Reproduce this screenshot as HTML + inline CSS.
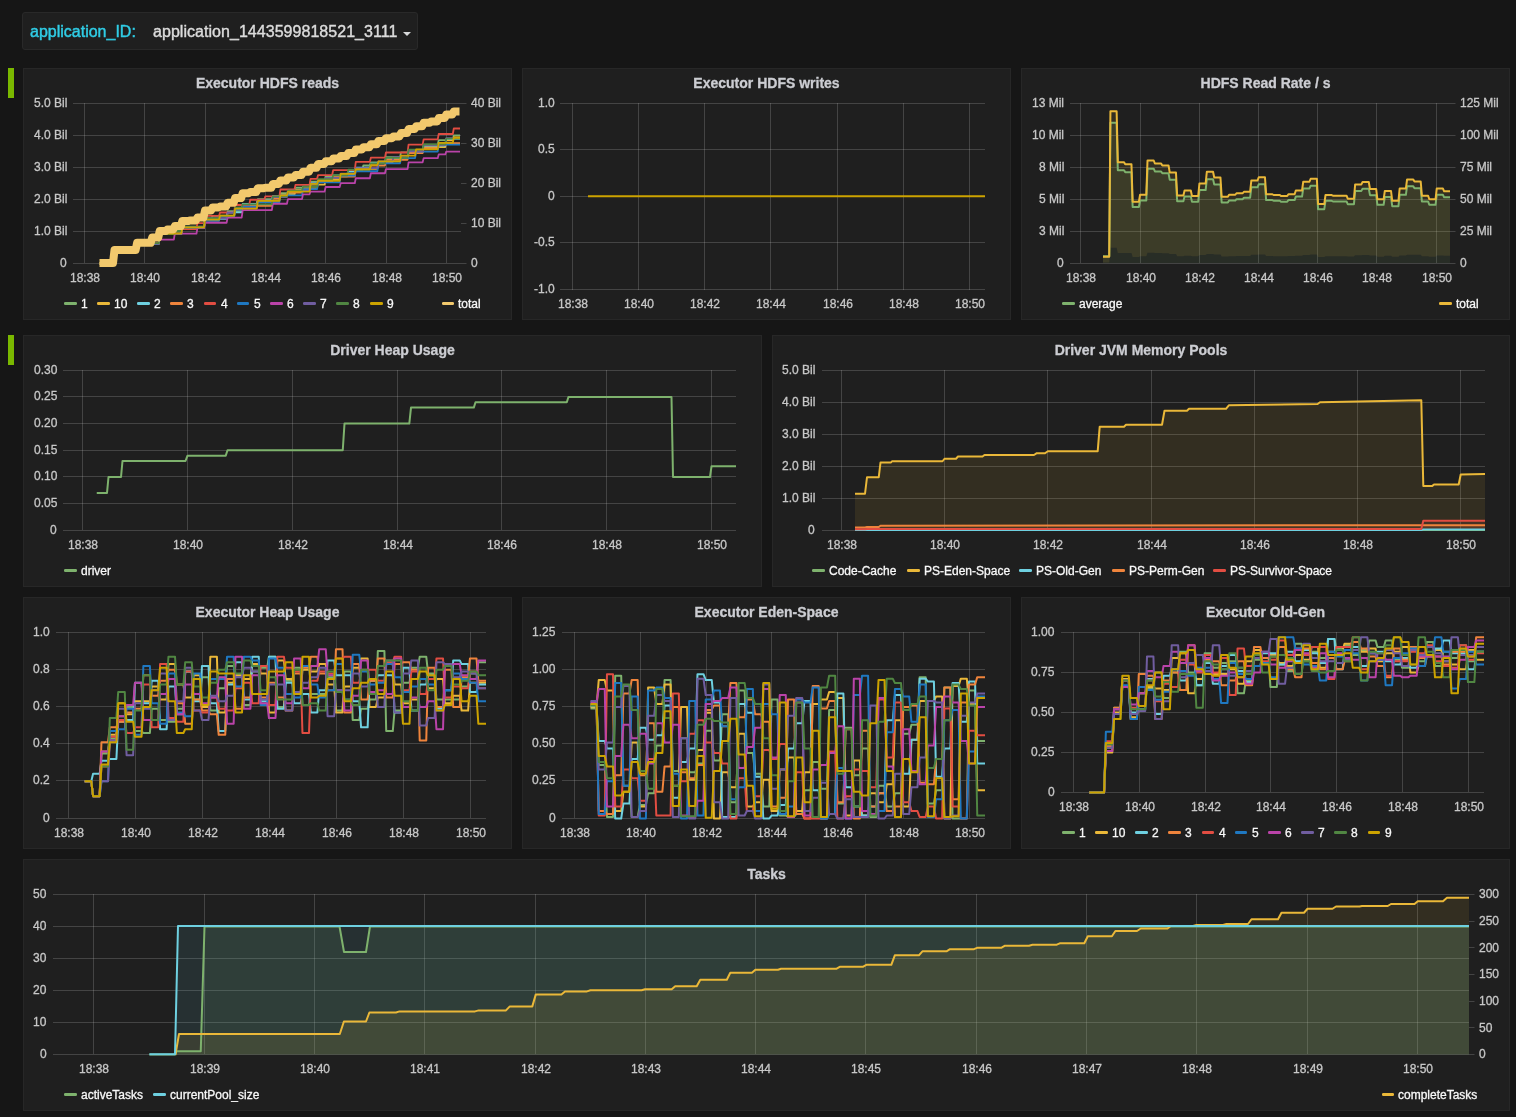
<!DOCTYPE html><html><head><meta charset="utf-8"><title>Spark dashboard</title><style>
html,body{margin:0;padding:0;background:#161616;}
body{width:1516px;height:1117px;position:relative;overflow:hidden;font-family:"Liberation Sans",sans-serif;color:#c8c8c8;}
.panel{position:absolute;box-sizing:border-box;background:#1f1f1f;border:1px solid #272727;}
.panel>*{position:absolute;}
.tk,.lg,.title,.submenu span{-webkit-text-stroke:0.3px currentColor;will-change:transform;}
.chart{left:-1px;top:-1px;}
.title{left:0px;top:5px;width:100%;text-align:center;font-size:14px;font-weight:bold;line-height:18px;color:#cccdd2;}
.tk{font-size:12px;line-height:16px;white-space:nowrap;color:#c8c8c8;margin-left:-1px;margin-top:-1.35px;}
.tk.c{width:60px;text-align:center;}
.lg{font-size:12px;line-height:16px;white-space:nowrap;color:#f8f8f8;margin-left:-1px;margin-top:-1px;}
.sw{width:12.6px;height:3.7px;border-radius:1.2px;margin-left:-1px;margin-top:-1px;}
.rowbar{position:absolute;left:8px;width:6px;height:30px;background:#7ab800;}
.submenu{position:absolute;left:22px;top:12px;width:396px;height:38px;box-sizing:border-box;background:#1f1f1f;border:1px solid #292929;border-radius:3px;font-size:16px;line-height:20px;}
.submenu span{position:absolute;top:9px;white-space:nowrap;}
.caret{position:absolute;left:380px;top:19px;width:0;height:0;border-left:4px solid transparent;border-right:4px solid transparent;border-top:4px solid #d8d9da;}

</style></head><body>
<div class="submenu"><span style="left:7px;color:#30cde6;-webkit-text-stroke-width:0.45px">application_ID:</span><span style="left:129.5px;color:#dcdcdc;-webkit-text-stroke-width:0.4px;letter-spacing:0.04px">application_1443599818521_3111</span><div class="caret"></div></div>
<div class="rowbar" style="top:68px"></div><div class="rowbar" style="top:335px"></div>
<div class="panel" style="left:23px;top:68px;width:489px;height:252px">
<div class="title">Executor HDFS reads</div>
<svg class="chart" width="489" height="252" viewBox="0 0 489 252">
<rect x="50" y="35" width="388" height="1" fill="#c8c8c8" fill-opacity="0.22"/>
<rect x="50" y="67" width="388" height="1" fill="#c8c8c8" fill-opacity="0.22"/>
<rect x="50" y="99" width="388" height="1" fill="#c8c8c8" fill-opacity="0.22"/>
<rect x="50" y="131" width="388" height="1" fill="#c8c8c8" fill-opacity="0.22"/>
<rect x="50" y="163" width="388" height="1" fill="#c8c8c8" fill-opacity="0.22"/>
<rect x="50" y="195" width="388" height="1" fill="#c8c8c8" fill-opacity="0.22"/>
<rect x="61" y="35" width="1" height="160" fill="#c8c8c8" fill-opacity="0.22"/>
<rect x="121" y="35" width="1" height="160" fill="#c8c8c8" fill-opacity="0.22"/>
<rect x="182" y="35" width="1" height="160" fill="#c8c8c8" fill-opacity="0.22"/>
<rect x="242" y="35" width="1" height="160" fill="#c8c8c8" fill-opacity="0.22"/>
<rect x="302" y="35" width="1" height="160" fill="#c8c8c8" fill-opacity="0.22"/>
<rect x="363" y="35" width="1" height="160" fill="#c8c8c8" fill-opacity="0.22"/>
<rect x="423" y="35" width="1" height="160" fill="#c8c8c8" fill-opacity="0.22"/>
<rect x="438" y="35" width="5.5" height="1" fill="#c8c8c8" fill-opacity="0.22"/>
<rect x="438" y="75" width="5.5" height="1" fill="#c8c8c8" fill-opacity="0.22"/>
<rect x="438" y="115" width="5.5" height="1" fill="#c8c8c8" fill-opacity="0.22"/>
<rect x="438" y="155" width="5.5" height="1" fill="#c8c8c8" fill-opacity="0.22"/>
<rect x="438" y="195" width="5.5" height="1" fill="#c8c8c8" fill-opacity="0.22"/>
<path d="M76.5 195.5 L82.96 195.5 L83.96 195.5 L90.5 195.5 L91.5 183.02 L98.04 183.02 L99.04 183.02 L105.58 183.02 L106.58 183.02 L113.12 183.02 L114.12 175.72 L120.66 175.72 L121.66 175.72 L128.2 175.72 L129.2 175.72 L135.74 175.72 L136.74 165.56 L143.28 165.56 L144.28 165.56 L150.82 165.56 L151.82 165.56 L158.36 165.56 L159.36 158.76 L165.9 158.76 L166.9 158.76 L173.44 158.76 L174.44 158.76 L180.98 158.76 L181.98 150.42 L188.52 150.42 L189.52 147.92 L196.06 147.92 L197.06 147.92 L203.6 147.92 L204.6 143.15 L211.14 143.15 L212.14 143.15 L218.68 143.15 L219.68 136.02 L226.22 136.02 L227.22 136.02 L233.76 136.02 L234.76 131.13 L241.3 131.13 L242.3 131.13 L248.84 131.13 L249.84 128.39 L256.38 128.39 L257.38 125.23 L263.92 125.23 L264.92 125.23 L271.46 125.23 L272.46 119.74 L279 119.74 L280 119.74 L286.54 119.74 L287.54 113.57 L294.08 113.57 L295.08 113.57 L301.62 113.57 L302.62 108.27 L309.16 108.27 L310.16 108.27 L316.7 108.27 L317.7 108.27 L324.24 108.27 L325.24 102.37 L331.78 102.37 L332.78 102.37 L339.32 102.37 L340.32 97.51 L346.86 97.51 L347.86 94.48 L354.4 94.48 L355.4 94.48 L361.94 94.48 L362.94 89.18 L369.48 89.18 L370.48 89.18 L377.02 89.18 L378.02 84.42 L384.56 84.42 L385.56 84.42 L392.1 84.42 L393.1 84.42 L399.64 84.42 L400.64 76.7 L407.18 76.7 L408.18 76.7 L414.72 76.7 L415.72 72.05 L422.26 72.05 L423.26 72.05 L429.8 72.05 L430.8 67.3 L437 67.3" fill="none" stroke="#7EB26D" stroke-width="1.8" stroke-linejoin="round" />
<path d="M76.5 195.5 L82.96 195.5 L83.96 195.5 L90.5 195.5 L91.5 183.02 L98.04 183.02 L99.04 183.02 L105.58 183.02 L106.58 183.02 L113.12 183.02 L114.12 176.16 L120.66 176.16 L121.66 176.16 L128.2 176.16 L129.2 176.16 L135.74 176.16 L136.74 165.55 L143.28 165.55 L144.28 165.55 L150.82 165.55 L151.82 165.55 L158.36 165.55 L159.36 159.15 L165.9 159.15 L166.9 159.15 L173.44 159.15 L174.44 159.15 L180.98 159.15 L181.98 151.94 L188.52 151.94 L189.52 151.94 L196.06 151.94 L197.06 147.85 L203.6 147.85 L204.6 147.85 L211.14 147.85 L212.14 140.42 L218.68 140.42 L219.68 137.63 L226.22 137.63 L227.22 137.63 L233.76 137.63 L234.76 132.62 L241.3 132.62 L242.3 132.62 L248.84 132.62 L249.84 132.62 L256.38 132.62 L257.38 126.69 L263.92 126.69 L264.92 126.69 L271.46 126.69 L272.46 121.99 L279 121.99 L280 121.99 L286.54 121.99 L287.54 116.59 L294.08 116.59 L295.08 116.59 L301.62 116.59 L302.62 111.2 L309.16 111.2 L310.16 111.2 L316.7 111.2 L317.7 105.99 L324.24 105.99 L325.24 105.99 L331.78 105.99 L332.78 100.92 L339.32 100.92 L340.32 100.92 L346.86 100.92 L347.86 100.92 L354.4 100.92 L355.4 94.32 L361.94 94.32 L362.94 94.32 L369.48 94.32 L370.48 90.44 L377.02 90.44 L378.02 90.44 L384.56 90.44 L385.56 84.02 L392.1 84.02 L393.1 84.02 L399.64 84.02 L400.64 79.16 L407.18 79.16 L408.18 79.16 L414.72 79.16 L415.72 79.16 L422.26 79.16 L423.26 72.47 L429.8 72.47 L430.8 69.46 L437 69.46" fill="none" stroke="#EAB839" stroke-width="1.8" stroke-linejoin="round" />
<path d="M76.5 195.5 L82.96 195.5 L83.96 195.5 L90.5 195.5 L91.5 183.02 L98.04 183.02 L99.04 183.02 L105.58 183.02 L106.58 183.02 L113.12 183.02 L114.12 175.5 L120.66 175.5 L121.66 175.5 L128.2 175.5 L129.2 171.15 L135.74 171.15 L136.74 166.2 L143.28 166.2 L144.28 166.2 L150.82 166.2 L151.82 166.2 L158.36 166.2 L159.36 158.92 L165.9 158.92 L166.9 158.92 L173.44 158.92 L174.44 158.92 L180.98 158.92 L181.98 150.95 L188.52 150.95 L189.52 150.95 L196.06 150.95 L197.06 150.95 L203.6 150.95 L204.6 144.37 L211.14 144.37 L212.14 144.37 L218.68 144.37 L219.68 136.11 L226.22 136.11 L227.22 136.11 L233.76 136.11 L234.76 132.69 L241.3 132.69 L242.3 132.69 L248.84 132.69 L249.84 128.24 L256.38 128.24 L257.38 128.24 L263.92 128.24 L264.92 123.11 L271.46 123.11 L272.46 123.11 L279 123.11 L280 118.53 L286.54 118.53 L287.54 115.16 L294.08 115.16 L295.08 111.91 L301.62 111.91 L302.62 111.91 L309.16 111.91 L310.16 107.31 L316.7 107.31 L317.7 107.31 L324.24 107.31 L325.24 103.58 L331.78 103.58 L332.78 99.75 L339.32 99.75 L340.32 99.75 L346.86 99.75 L347.86 95.14 L354.4 95.14 L355.4 95.14 L361.94 95.14 L362.94 90.68 L369.48 90.68 L370.48 90.68 L377.02 90.68 L378.02 90.68 L384.56 90.68 L385.56 83.43 L392.1 83.43 L393.1 83.43 L399.64 83.43 L400.64 77.57 L407.18 77.57 L408.18 77.57 L414.72 77.57 L415.72 77.57 L422.26 77.57 L423.26 70.85 L429.8 70.85 L430.8 70.85 L437 70.85" fill="none" stroke="#6ED0E0" stroke-width="1.8" stroke-linejoin="round" />
<path d="M76.5 195.5 L82.96 195.5 L83.96 195.5 L90.5 195.5 L91.5 183.02 L98.04 183.02 L99.04 183.02 L105.58 183.02 L106.58 183.02 L113.12 183.02 L114.12 175.78 L120.66 175.78 L121.66 175.78 L128.2 175.78 L129.2 175.78 L135.74 175.78 L136.74 165.92 L143.28 165.92 L144.28 165.92 L150.82 165.92 L151.82 165.92 L158.36 165.92 L159.36 160.21 L165.9 160.21 L166.9 160.21 L173.44 160.21 L174.44 160.21 L180.98 160.21 L181.98 152.35 L188.52 152.35 L189.52 152.35 L196.06 152.35 L197.06 147.84 L203.6 147.84 L204.6 147.84 L211.14 147.84 L212.14 142.02 L218.68 142.02 L219.68 137.93 L226.22 137.93 L227.22 137.93 L233.76 137.93 L234.76 137.93 L241.3 137.93 L242.3 137.93 L248.84 137.93 L249.84 130.6 L256.38 130.6 L257.38 127.65 L263.92 127.65 L264.92 124.53 L271.46 124.53 L272.46 124.53 L279 124.53 L280 120.03 L286.54 120.03 L287.54 120.03 L294.08 120.03 L295.08 113.24 L301.62 113.24 L302.62 113.24 L309.16 113.24 L310.16 108.7 L316.7 108.7 L317.7 108.7 L324.24 108.7 L325.24 108.7 L331.78 108.7 L332.78 101.24 L339.32 101.24 L340.32 101.24 L346.86 101.24 L347.86 97.49 L354.4 97.49 L355.4 97.49 L361.94 97.49 L362.94 91.73 L369.48 91.73 L370.48 91.73 L377.02 91.73 L378.02 91.73 L384.56 91.73 L385.56 84.98 L392.1 84.98 L393.1 84.98 L399.64 84.98 L400.64 80.13 L407.18 80.13 L408.18 80.13 L414.72 80.13 L415.72 75.15 L422.26 75.15 L423.26 75.15 L429.8 75.15 L430.8 75.15 L437 75.15" fill="none" stroke="#EF843C" stroke-width="1.8" stroke-linejoin="round" />
<path d="M76.5 195.5 L82.96 195.5 L83.96 195.5 L90.5 195.5 L91.5 183.02 L98.04 183.02 L99.04 183.02 L105.58 183.02 L106.58 183.02 L113.12 183.02 L114.12 174.99 L120.66 174.99 L121.66 174.99 L128.2 174.99 L129.2 174.99 L135.74 174.99 L136.74 165.64 L143.28 165.64 L144.28 165.64 L150.82 165.64 L151.82 160.99 L158.36 160.99 L159.36 160.99 L165.9 160.99 L166.9 160.99 L173.44 160.99 L174.44 155.21 L180.98 155.21 L181.98 147.78 L188.52 147.78 L189.52 147.78 L196.06 147.78 L197.06 144.51 L203.6 144.51 L204.6 144.51 L211.14 144.51 L212.14 137.01 L218.68 137.01 L219.68 137.01 L226.22 137.01 L227.22 131.76 L233.76 131.76 L234.76 131.76 L241.3 131.76 L242.3 128.4 L248.84 128.4 L249.84 128.4 L256.38 128.4 L257.38 121.51 L263.92 121.51 L264.92 121.51 L271.46 121.51 L272.46 116.97 L279 116.97 L280 116.97 L286.54 116.97 L287.54 110.8 L294.08 110.8 L295.08 107.04 L301.62 107.04 L302.62 107.04 L309.16 107.04 L310.16 102.2 L316.7 102.2 L317.7 102.2 L324.24 102.2 L325.24 102.2 L331.78 102.2 L332.78 93.87 L339.32 93.87 L340.32 93.87 L346.86 93.87 L347.86 89.7 L354.4 89.7 L355.4 89.7 L361.94 89.7 L362.94 84.51 L369.48 84.51 L370.48 84.51 L377.02 84.51 L378.02 84.51 L384.56 84.51 L385.56 76.69 L392.1 76.69 L393.1 76.69 L399.64 76.69 L400.64 71.38 L407.18 71.38 L408.18 71.38 L414.72 71.38 L415.72 66 L422.26 66 L423.26 66 L429.8 66 L430.8 60.48 L437 60.48" fill="none" stroke="#E24D42" stroke-width="1.8" stroke-linejoin="round" />
<path d="M76.5 195.5 L82.96 195.5 L83.96 195.5 L90.5 195.5 L91.5 183.02 L98.04 183.02 L99.04 183.02 L105.58 183.02 L106.58 183.02 L113.12 183.02 L114.12 175.96 L120.66 175.96 L121.66 175.96 L128.2 175.96 L129.2 175.96 L135.74 175.96 L136.74 165.75 L143.28 165.75 L144.28 165.75 L150.82 165.75 L151.82 165.75 L158.36 165.75 L159.36 159.54 L165.9 159.54 L166.9 159.54 L173.44 159.54 L174.44 159.54 L180.98 159.54 L181.98 152.81 L188.52 152.81 L189.52 152.81 L196.06 152.81 L197.06 148.61 L203.6 148.61 L204.6 148.61 L211.14 148.61 L212.14 141.86 L218.68 141.86 L219.68 138.71 L226.22 138.71 L227.22 138.71 L233.76 138.71 L234.76 134.32 L241.3 134.32 L242.3 134.32 L248.84 134.32 L249.84 134.32 L256.38 134.32 L257.38 127.32 L263.92 127.32 L264.92 127.32 L271.46 127.32 L272.46 127.32 L279 127.32 L280 121.22 L286.54 121.22 L287.54 121.22 L294.08 121.22 L295.08 114.4 L301.62 114.4 L302.62 114.4 L309.16 114.4 L310.16 114.4 L316.7 114.4 L317.7 107.61 L324.24 107.61 L325.24 107.61 L331.78 107.61 L332.78 103.24 L339.32 103.24 L340.32 103.24 L346.86 103.24 L347.86 103.24 L354.4 103.24 L355.4 95.24 L361.94 95.24 L362.94 95.24 L369.48 95.24 L370.48 95.24 L377.02 95.24 L378.02 90.06 L384.56 90.06 L385.56 90.06 L392.1 90.06 L393.1 83.67 L399.64 83.67 L400.64 83.67 L407.18 83.67 L408.18 83.67 L414.72 83.67 L415.72 76.62 L422.26 76.62 L423.26 76.62 L429.8 76.62 L430.8 76.62 L437 76.62" fill="none" stroke="#1F78C1" stroke-width="1.8" stroke-linejoin="round" />
<path d="M76.5 195.5 L82.96 195.5 L83.96 195.5 L90.5 195.5 L91.5 183.02 L98.04 183.02 L99.04 183.02 L105.58 183.02 L106.58 183.02 L113.12 183.02 L114.12 175.29 L120.66 175.29 L121.66 175.29 L128.2 175.29 L129.2 171.62 L135.74 171.62 L136.74 171.62 L143.28 171.62 L144.28 171.62 L150.82 171.62 L151.82 165.72 L158.36 165.72 L159.36 165.72 L165.9 165.72 L166.9 165.72 L173.44 165.72 L174.44 160.17 L180.98 160.17 L181.98 154.74 L188.52 154.74 L189.52 154.74 L196.06 154.74 L197.06 154.74 L203.6 154.74 L204.6 149.6 L211.14 149.6 L212.14 149.6 L218.68 149.6 L219.68 142.11 L226.22 142.11 L227.22 142.11 L233.76 142.11 L234.76 142.11 L241.3 142.11 L242.3 142.11 L248.84 142.11 L249.84 135.76 L256.38 135.76 L257.38 135.76 L263.92 135.76 L264.92 131.1 L271.46 131.1 L272.46 131.1 L279 131.1 L280 126.3 L286.54 126.3 L287.54 123.53 L294.08 123.53 L295.08 123.53 L301.62 123.53 L302.62 119.01 L309.16 119.01 L310.16 119.01 L316.7 119.01 L317.7 115.2 L324.24 115.2 L325.24 115.2 L331.78 115.2 L332.78 110.27 L339.32 110.27 L340.32 110.27 L346.86 110.27 L347.86 105.25 L354.4 105.25 L355.4 105.25 L361.94 105.25 L362.94 101.05 L369.48 101.05 L370.48 101.05 L377.02 101.05 L378.02 101.05 L384.56 101.05 L385.56 94.32 L392.1 94.32 L393.1 94.32 L399.64 94.32 L400.64 90.14 L407.18 90.14 L408.18 90.14 L414.72 90.14 L415.72 86.47 L422.26 86.47 L423.26 83.64 L429.8 83.64 L430.8 83.64 L437 83.64" fill="none" stroke="#BA43A9" stroke-width="1.8" stroke-linejoin="round" />
<path d="M76.5 195.5 L82.96 195.5 L83.96 195.5 L90.5 195.5 L91.5 183.02 L98.04 183.02 L99.04 183.02 L105.58 183.02 L106.58 183.02 L113.12 183.02 L114.12 175.55 L120.66 175.55 L121.66 175.55 L128.2 175.55 L129.2 175.55 L135.74 175.55 L136.74 165.79 L143.28 165.79 L144.28 165.79 L150.82 165.79 L151.82 165.79 L158.36 165.79 L159.36 159.31 L165.9 159.31 L166.9 159.31 L173.44 159.31 L174.44 159.31 L180.98 159.31 L181.98 150.25 L188.52 150.25 L189.52 150.25 L196.06 150.25 L197.06 150.25 L203.6 150.25 L204.6 144.77 L211.14 144.77 L212.14 140.16 L218.68 140.16 L219.68 140.16 L226.22 140.16 L227.22 140.16 L233.76 140.16 L234.76 132.61 L241.3 132.61 L242.3 132.61 L248.84 132.61 L249.84 129.17 L256.38 129.17 L257.38 129.17 L263.92 129.17 L264.92 122.64 L271.46 122.64 L272.46 122.64 L279 122.64 L280 122.64 L286.54 122.64 L287.54 115.74 L294.08 115.74 L295.08 112.72 L301.62 112.72 L302.62 109.9 L309.16 109.9 L310.16 109.9 L316.7 109.9 L317.7 105.75 L324.24 105.75 L325.24 105.75 L331.78 105.75 L332.78 100.15 L339.32 100.15 L340.32 100.15 L346.86 100.15 L347.86 100.15 L354.4 100.15 L355.4 93.34 L361.94 93.34 L362.94 93.34 L369.48 93.34 L370.48 89.2 L377.02 89.2 L378.02 89.2 L384.56 89.2 L385.56 83.24 L392.1 83.24 L393.1 83.24 L399.64 83.24 L400.64 77.19 L407.18 77.19 L408.18 77.19 L414.72 77.19 L415.72 77.19 L422.26 77.19 L423.26 70.17 L429.8 70.17 L430.8 70.17 L437 70.17" fill="none" stroke="#705DA0" stroke-width="1.8" stroke-linejoin="round" />
<path d="M76.5 195.5 L82.96 195.5 L83.96 195.5 L90.5 195.5 L91.5 183.02 L98.04 183.02 L99.04 183.02 L105.58 183.02 L106.58 183.02 L113.12 183.02 L114.12 175.19 L120.66 175.19 L121.66 175.19 L128.2 175.19 L129.2 175.19 L135.74 175.19 L136.74 166.12 L143.28 166.12 L144.28 166.12 L150.82 166.12 L151.82 163.02 L158.36 163.02 L159.36 159.27 L165.9 159.27 L166.9 159.27 L173.44 159.27 L174.44 159.27 L180.98 159.27 L181.98 150.2 L188.52 150.2 L189.52 150.2 L196.06 150.2 L197.06 147.75 L203.6 147.75 L204.6 147.75 L211.14 147.75 L212.14 139.52 L218.68 139.52 L219.68 136.38 L226.22 136.38 L227.22 136.38 L233.76 136.38 L234.76 136.38 L241.3 136.38 L242.3 136.38 L248.84 136.38 L249.84 128.47 L256.38 128.47 L257.38 128.47 L263.92 128.47 L264.92 122.56 L271.46 122.56 L272.46 122.56 L279 122.56 L280 118.74 L286.54 118.74 L287.54 118.74 L294.08 118.74 L295.08 111.12 L301.62 111.12 L302.62 111.12 L309.16 111.12 L310.16 107.27 L316.7 107.27 L317.7 107.27 L324.24 107.27 L325.24 101.68 L331.78 101.68 L332.78 101.68 L339.32 101.68 L340.32 101.68 L346.86 101.68 L347.86 95.37 L354.4 95.37 L355.4 95.37 L361.94 95.37 L362.94 89.92 L369.48 89.92 L370.48 89.92 L377.02 89.92 L378.02 89.92 L384.56 89.92 L385.56 81.56 L392.1 81.56 L393.1 81.56 L399.64 81.56 L400.64 76.4 L407.18 76.4 L408.18 76.4 L414.72 76.4 L415.72 76.4 L422.26 76.4 L423.26 70.59 L429.8 70.59 L430.8 70.59 L437 70.59" fill="none" stroke="#508642" stroke-width="1.8" stroke-linejoin="round" />
<path d="M76.5 195.5 L82.96 195.5 L83.96 195.5 L90.5 195.5 L91.5 183.02 L98.04 183.02 L99.04 183.02 L105.58 183.02 L106.58 183.02 L113.12 183.02 L114.12 175.76 L120.66 175.76 L121.66 175.76 L128.2 175.76 L129.2 172.16 L135.74 172.16 L136.74 165.51 L143.28 165.51 L144.28 165.51 L150.82 165.51 L151.82 165.51 L158.36 165.51 L159.36 159.36 L165.9 159.36 L166.9 159.36 L173.44 159.36 L174.44 159.36 L180.98 159.36 L181.98 151.59 L188.52 151.59 L189.52 151.59 L196.06 151.59 L197.06 147.63 L203.6 147.63 L204.6 147.63 L211.14 147.63 L212.14 140.54 L218.68 140.54 L219.68 140.54 L226.22 140.54 L227.22 140.54 L233.76 140.54 L234.76 132.96 L241.3 132.96 L242.3 132.96 L248.84 132.96 L249.84 132.96 L256.38 132.96 L257.38 127.3 L263.92 127.3 L264.92 123.72 L271.46 123.72 L272.46 123.72 L279 123.72 L280 123.72 L286.54 123.72 L287.54 115.97 L294.08 115.97 L295.08 112.74 L301.62 112.74 L302.62 112.74 L309.16 112.74 L310.16 112.74 L316.7 112.74 L317.7 105.92 L324.24 105.92 L325.24 105.92 L331.78 105.92 L332.78 101.25 L339.32 101.25 L340.32 101.25 L346.86 101.25 L347.86 97.22 L354.4 97.22 L355.4 93.46 L361.94 93.46 L362.94 93.46 L369.48 93.46 L370.48 93.46 L377.02 93.46 L378.02 87.7 L384.56 87.7 L385.56 87.7 L392.1 87.7 L393.1 81.3 L399.64 81.3 L400.64 81.3 L407.18 81.3 L408.18 81.3 L414.72 81.3 L415.72 74.87 L422.26 74.87 L423.26 74.87 L429.8 74.87 L430.8 69.73 L437 69.73" fill="none" stroke="#CCA300" stroke-width="1.8" stroke-linejoin="round" />
<path d="M76.5 195 L82.46 195 L83.96 195 L90 195 L91.5 182 L97.54 182 L99.04 182 L105.08 182 L106.58 182 L112.62 182 L114.12 174.8 L120.16 174.8 L121.66 174.8 L127.7 174.8 L129.2 169.5 L135.24 169.5 L136.74 163 L142.78 163 L144.28 161.5 L150.32 161.5 L151.82 158 L157.86 158 L159.36 153 L165.4 153 L166.9 152.4 L172.94 152.4 L174.44 149.5 L180.48 149.5 L181.98 142.6 L188.02 142.6 L189.52 139.5 L195.56 139.5 L197.06 138.5 L203.1 138.5 L204.6 134.7 L210.64 134.7 L212.14 130 L218.18 130 L219.68 125.2 L225.72 125.2 L227.22 123.96 L233.26 123.96 L234.76 120.18 L240.8 120.18 L242.3 119.73 L248.34 119.73 L249.84 115.9 L255.88 115.9 L257.38 112.46 L263.42 112.46 L264.92 109.4 L270.96 109.4 L272.46 107.05 L278.5 107.05 L280 103.71 L286.04 103.71 L287.54 99.73 L293.58 99.73 L295.08 96.01 L301.12 96.01 L302.62 93.37 L308.66 93.37 L310.16 90.59 L316.2 90.59 L317.7 88 L323.74 88 L325.24 85.08 L331.28 85.08 L332.78 81.56 L338.82 81.56 L340.32 79.25 L346.36 79.25 L347.86 76.15 L353.9 76.15 L355.4 73.07 L361.44 73.07 L362.94 70.18 L368.98 70.18 L370.48 68.42 L376.52 68.42 L378.02 65.04 L384.06 65.04 L385.56 61.09 L391.6 61.09 L393.1 58.36 L399.14 58.36 L400.64 54.82 L406.68 54.82 L408.18 53.4 L414.22 53.4 L415.72 50.04 L421.76 50.04 L423.26 46.5 L429.3 46.5 L430.8 43.51 L436.5 43.51" fill="none" stroke="#F2C96D" stroke-width="8" stroke-linejoin="round" />
</svg>
<div class="tk" style="right:444px;top:27.5px">5.0 Bil</div>
<div class="tk" style="right:444px;top:59.5px">4.0 Bil</div>
<div class="tk" style="right:444px;top:91.5px">3.0 Bil</div>
<div class="tk" style="right:444px;top:123.5px">2.0 Bil</div>
<div class="tk" style="right:444px;top:155.5px">1.0 Bil</div>
<div class="tk" style="right:444px;top:187.5px">0</div>
<div class="tk" style="left:448px;top:27.5px">40 Bil</div>
<div class="tk" style="left:448px;top:67.5px">30 Bil</div>
<div class="tk" style="left:448px;top:107.5px">20 Bil</div>
<div class="tk" style="left:448px;top:147.5px">10 Bil</div>
<div class="tk" style="left:448px;top:187.5px">0</div>
<div class="tk c" style="left:31.5px;top:202.1px">18:38</div>
<div class="tk c" style="left:91.5px;top:202.1px">18:40</div>
<div class="tk c" style="left:152.5px;top:202.1px">18:42</div>
<div class="tk c" style="left:212.5px;top:202.1px">18:44</div>
<div class="tk c" style="left:272.5px;top:202.1px">18:46</div>
<div class="tk c" style="left:333.5px;top:202.1px">18:48</div>
<div class="tk c" style="left:393.5px;top:202.1px">18:50</div>
<div class="sw" style="left:41px;top:233.75px;background:#7EB26D"></div>
<div class="lg" style="left:58px;top:228px">1</div>
<div class="sw" style="left:74px;top:233.75px;background:#EAB839"></div>
<div class="lg" style="left:91px;top:228px">10</div>
<div class="sw" style="left:114px;top:233.75px;background:#6ED0E0"></div>
<div class="lg" style="left:131px;top:228px">2</div>
<div class="sw" style="left:147px;top:233.75px;background:#EF843C"></div>
<div class="lg" style="left:164px;top:228px">3</div>
<div class="sw" style="left:180.5px;top:233.75px;background:#E24D42"></div>
<div class="lg" style="left:197.5px;top:228px">4</div>
<div class="sw" style="left:213.5px;top:233.75px;background:#1F78C1"></div>
<div class="lg" style="left:230.5px;top:228px">5</div>
<div class="sw" style="left:247px;top:233.75px;background:#BA43A9"></div>
<div class="lg" style="left:264px;top:228px">6</div>
<div class="sw" style="left:280px;top:233.75px;background:#705DA0"></div>
<div class="lg" style="left:297px;top:228px">7</div>
<div class="sw" style="left:313px;top:233.75px;background:#508642"></div>
<div class="lg" style="left:330px;top:228px">8</div>
<div class="sw" style="left:347px;top:233.75px;background:#CCA300"></div>
<div class="lg" style="left:364px;top:228px">9</div>
<div class="sw" style="left:418.5px;top:233.75px;background:#F2C96D"></div>
<div class="lg" style="left:435px;top:228px">total</div>
</div>
<div class="panel" style="left:522px;top:68px;width:489px;height:252px">
<div class="title">Executor HDFS writes</div>
<svg class="chart" width="489" height="252" viewBox="0 0 489 252">
<rect x="38" y="35" width="425" height="1" fill="#c8c8c8" fill-opacity="0.22"/>
<rect x="38" y="81" width="425" height="1" fill="#c8c8c8" fill-opacity="0.22"/>
<rect x="38" y="128" width="425" height="1" fill="#c8c8c8" fill-opacity="0.22"/>
<rect x="38" y="174" width="425" height="1" fill="#c8c8c8" fill-opacity="0.22"/>
<rect x="38" y="221" width="425" height="1" fill="#c8c8c8" fill-opacity="0.22"/>
<rect x="50" y="35" width="1" height="187" fill="#c8c8c8" fill-opacity="0.22"/>
<rect x="116" y="35" width="1" height="187" fill="#c8c8c8" fill-opacity="0.22"/>
<rect x="182" y="35" width="1" height="187" fill="#c8c8c8" fill-opacity="0.22"/>
<rect x="248" y="35" width="1" height="187" fill="#c8c8c8" fill-opacity="0.22"/>
<rect x="315" y="35" width="1" height="187" fill="#c8c8c8" fill-opacity="0.22"/>
<rect x="381" y="35" width="1" height="187" fill="#c8c8c8" fill-opacity="0.22"/>
<rect x="447" y="35" width="1" height="187" fill="#c8c8c8" fill-opacity="0.22"/>
<path d="M66 128.3 L463 128.3" fill="none" stroke="#CCA300" stroke-width="2" stroke-linejoin="round" />
</svg>
<div class="tk" style="right:455.5px;top:27.5px">1.0</div>
<div class="tk" style="right:455.5px;top:73.5px">0.5</div>
<div class="tk" style="right:455.5px;top:120.5px">0</div>
<div class="tk" style="right:455.5px;top:166.5px">-0.5</div>
<div class="tk" style="right:455.5px;top:213.5px">-1.0</div>
<div class="tk c" style="left:20.5px;top:228.1px">18:38</div>
<div class="tk c" style="left:86.5px;top:228.1px">18:40</div>
<div class="tk c" style="left:152.5px;top:228.1px">18:42</div>
<div class="tk c" style="left:218.5px;top:228.1px">18:44</div>
<div class="tk c" style="left:285.5px;top:228.1px">18:46</div>
<div class="tk c" style="left:351.5px;top:228.1px">18:48</div>
<div class="tk c" style="left:417.5px;top:228.1px">18:50</div>
</div>
<div class="panel" style="left:1021px;top:68px;width:489px;height:252px">
<div class="title">HDFS Read Rate / s</div>
<svg class="chart" width="489" height="252" viewBox="0 0 489 252">
<rect x="49" y="35" width="380" height="1" fill="#c8c8c8" fill-opacity="0.22"/>
<rect x="49" y="67" width="380" height="1" fill="#c8c8c8" fill-opacity="0.22"/>
<rect x="49" y="99" width="380" height="1" fill="#c8c8c8" fill-opacity="0.22"/>
<rect x="49" y="131" width="380" height="1" fill="#c8c8c8" fill-opacity="0.22"/>
<rect x="49" y="163" width="380" height="1" fill="#c8c8c8" fill-opacity="0.22"/>
<rect x="49" y="195" width="380" height="1" fill="#c8c8c8" fill-opacity="0.22"/>
<rect x="59" y="35" width="1" height="160" fill="#c8c8c8" fill-opacity="0.22"/>
<rect x="119" y="35" width="1" height="160" fill="#c8c8c8" fill-opacity="0.22"/>
<rect x="178" y="35" width="1" height="160" fill="#c8c8c8" fill-opacity="0.22"/>
<rect x="237" y="35" width="1" height="160" fill="#c8c8c8" fill-opacity="0.22"/>
<rect x="296" y="35" width="1" height="160" fill="#c8c8c8" fill-opacity="0.22"/>
<rect x="355" y="35" width="1" height="160" fill="#c8c8c8" fill-opacity="0.22"/>
<rect x="415" y="35" width="1" height="160" fill="#c8c8c8" fill-opacity="0.22"/>
<rect x="429" y="35" width="5.5" height="1" fill="#c8c8c8" fill-opacity="0.22"/>
<rect x="429" y="67" width="5.5" height="1" fill="#c8c8c8" fill-opacity="0.22"/>
<rect x="429" y="99" width="5.5" height="1" fill="#c8c8c8" fill-opacity="0.22"/>
<rect x="429" y="131" width="5.5" height="1" fill="#c8c8c8" fill-opacity="0.22"/>
<rect x="429" y="163" width="5.5" height="1" fill="#c8c8c8" fill-opacity="0.22"/>
<rect x="429" y="195" width="5.5" height="1" fill="#c8c8c8" fill-opacity="0.22"/>
<path d="M82 188.25 L88.22 188.25 L89.42 54.87 L95.63 54.87 L96.83 102.3 L103.05 102.3 L104.25 104.16 L110.46 104.16 L111.66 139.04 L117.88 139.04 L119.08 132.53 L125.3 132.53 L126.5 100.68 L132.71 100.68 L133.91 103.47 L140.13 103.47 L141.33 105.32 L147.55 105.32 L148.75 111.84 L154.96 111.84 L156.16 133.22 L162.38 133.22 L163.58 128.57 L169.79 128.57 L170.99 133.69 L177.21 133.69 L178.41 122.06 L184.63 122.06 L185.83 111.14 L192.04 111.14 L193.24 116.49 L199.46 116.49 L200.66 134.39 L206.88 134.39 L208.08 132.53 L214.29 132.53 L215.49 131.13 L221.71 131.13 L222.91 129.74 L229.12 129.74 L230.32 119.28 L236.54 119.28 L237.74 116.25 L243.96 116.25 L245.16 132.06 L251.37 132.06 L252.57 132.76 L258.79 132.76 L259.99 133.69 L266.21 133.69 L267.41 132.06 L273.62 132.06 L274.82 128.57 L281.04 128.57 L282.24 120.44 L288.45 120.44 L289.65 117.65 L295.87 117.65 L297.07 141.13 L303.29 141.13 L304.49 132.85 L310.7 132.85 L311.9 133.41 L318.12 133.41 L319.32 133.41 L325.54 133.41 L326.74 136.2 L332.95 136.2 L334.15 122.9 L340.37 122.9 L341.57 120.67 L347.78 120.67 L348.98 127.18 L355.2 127.18 L356.4 136.76 L362.62 136.76 L363.82 129.04 L370.03 129.04 L371.23 138.15 L377.45 138.15 L378.65 126.81 L384.87 126.81 L386.07 118.34 L392.28 118.34 L393.48 120.21 L399.7 120.21 L400.9 133.41 L407.11 133.41 L408.31 136.76 L414.53 136.76 L415.73 126.81 L421.95 126.81 L423.15 129.32 L429 129.32 L429 195 L82 195Z" fill="#7EB26D" fill-opacity="0.1" stroke="none"/>
<path d="M82 188.75 L88.22 188.75 L89.42 43.25 L95.63 43.25 L96.83 94.25 L103.05 94.25 L104.25 96.25 L110.46 96.25 L111.66 133.75 L117.88 133.75 L119.08 126.75 L125.3 126.75 L126.5 92.5 L132.71 92.5 L133.91 95.5 L140.13 95.5 L141.33 97.5 L147.55 97.5 L148.75 104.5 L154.96 104.5 L156.16 127.5 L162.38 127.5 L163.58 122.5 L169.79 122.5 L170.99 128 L177.21 128 L178.41 115.5 L184.63 115.5 L185.83 103.75 L192.04 103.75 L193.24 109.5 L199.46 109.5 L200.66 128.75 L206.88 128.75 L208.08 126.75 L214.29 126.75 L215.49 125.25 L221.71 125.25 L222.91 123.75 L229.12 123.75 L230.32 112.5 L236.54 112.5 L237.74 109.25 L243.96 109.25 L245.16 126.25 L251.37 126.25 L252.57 127 L258.79 127 L259.99 128 L266.21 128 L267.41 126.25 L273.62 126.25 L274.82 122.5 L281.04 122.5 L282.24 113.75 L288.45 113.75 L289.65 110.75 L295.87 110.75 L297.07 136 L303.29 136 L304.49 127.1 L310.7 127.1 L311.9 127.7 L318.12 127.7 L319.32 127.7 L325.54 127.7 L326.74 130.7 L332.95 130.7 L334.15 116.4 L340.37 116.4 L341.57 114 L347.78 114 L348.98 121 L355.2 121 L356.4 131.3 L362.62 131.3 L363.82 123 L370.03 123 L371.23 132.8 L377.45 132.8 L378.65 120.6 L384.87 120.6 L386.07 111.5 L392.28 111.5 L393.48 113.5 L399.7 113.5 L400.9 127.7 L407.11 127.7 L408.31 131.3 L414.53 131.3 L415.73 120.6 L421.95 120.6 L423.15 123.3 L429 123.3 L429 187.83 L423.15 187.83 L421.95 187.56 L415.73 187.56 L414.53 188.63 L408.31 188.63 L407.11 188.27 L400.9 188.27 L399.7 186.85 L393.48 186.85 L392.28 186.65 L386.07 186.65 L384.87 187.56 L378.65 187.56 L377.45 188.78 L371.23 188.78 L370.03 187.8 L363.82 187.8 L362.62 188.63 L356.4 188.63 L355.2 187.6 L348.98 187.6 L347.78 186.9 L341.57 186.9 L340.37 187.14 L334.15 187.14 L332.95 188.57 L326.74 188.57 L325.54 188.27 L319.32 188.27 L318.12 188.27 L311.9 188.27 L310.7 188.21 L304.49 188.21 L303.29 189.1 L297.07 189.1 L295.87 186.57 L289.65 186.57 L288.45 186.88 L282.24 186.88 L281.04 187.75 L274.82 187.75 L273.62 188.12 L267.41 188.12 L266.21 188.3 L259.99 188.3 L258.79 188.2 L252.57 188.2 L251.37 188.12 L245.16 188.12 L243.96 186.43 L237.74 186.43 L236.54 186.75 L230.32 186.75 L229.12 187.88 L222.91 187.88 L221.71 188.02 L215.49 188.02 L214.29 188.18 L208.08 188.18 L206.88 188.38 L200.66 188.38 L199.46 186.45 L193.24 186.45 L192.04 185.88 L185.83 185.88 L184.63 187.05 L178.41 187.05 L177.21 188.3 L170.99 188.3 L169.79 187.75 L163.58 187.75 L162.38 188.25 L156.16 188.25 L154.96 185.95 L148.75 185.95 L147.55 185.25 L141.33 185.25 L140.13 185.05 L133.91 185.05 L132.71 184.75 L126.5 184.75 L125.3 188.18 L119.08 188.18 L117.88 188.88 L111.66 188.88 L110.46 185.12 L104.25 185.12 L103.05 184.93 L96.83 184.93 L95.63 179.82 L89.42 179.82 L88.22 194.38 L82 194.38Z" fill="#EAB839" fill-opacity="0.1" stroke="none"/>
<path d="M82 188.25 L88.22 188.25 L89.42 54.87 L95.63 54.87 L96.83 102.3 L103.05 102.3 L104.25 104.16 L110.46 104.16 L111.66 139.04 L117.88 139.04 L119.08 132.53 L125.3 132.53 L126.5 100.68 L132.71 100.68 L133.91 103.47 L140.13 103.47 L141.33 105.32 L147.55 105.32 L148.75 111.84 L154.96 111.84 L156.16 133.22 L162.38 133.22 L163.58 128.57 L169.79 128.57 L170.99 133.69 L177.21 133.69 L178.41 122.06 L184.63 122.06 L185.83 111.14 L192.04 111.14 L193.24 116.49 L199.46 116.49 L200.66 134.39 L206.88 134.39 L208.08 132.53 L214.29 132.53 L215.49 131.13 L221.71 131.13 L222.91 129.74 L229.12 129.74 L230.32 119.28 L236.54 119.28 L237.74 116.25 L243.96 116.25 L245.16 132.06 L251.37 132.06 L252.57 132.76 L258.79 132.76 L259.99 133.69 L266.21 133.69 L267.41 132.06 L273.62 132.06 L274.82 128.57 L281.04 128.57 L282.24 120.44 L288.45 120.44 L289.65 117.65 L295.87 117.65 L297.07 141.13 L303.29 141.13 L304.49 132.85 L310.7 132.85 L311.9 133.41 L318.12 133.41 L319.32 133.41 L325.54 133.41 L326.74 136.2 L332.95 136.2 L334.15 122.9 L340.37 122.9 L341.57 120.67 L347.78 120.67 L348.98 127.18 L355.2 127.18 L356.4 136.76 L362.62 136.76 L363.82 129.04 L370.03 129.04 L371.23 138.15 L377.45 138.15 L378.65 126.81 L384.87 126.81 L386.07 118.34 L392.28 118.34 L393.48 120.21 L399.7 120.21 L400.9 133.41 L407.11 133.41 L408.31 136.76 L414.53 136.76 L415.73 126.81 L421.95 126.81 L423.15 129.32 L429 129.32" fill="none" stroke="#7EB26D" stroke-width="2" stroke-linejoin="round" />
<path d="M82 188.75 L88.22 188.75 L89.42 43.25 L95.63 43.25 L96.83 94.25 L103.05 94.25 L104.25 96.25 L110.46 96.25 L111.66 133.75 L117.88 133.75 L119.08 126.75 L125.3 126.75 L126.5 92.5 L132.71 92.5 L133.91 95.5 L140.13 95.5 L141.33 97.5 L147.55 97.5 L148.75 104.5 L154.96 104.5 L156.16 127.5 L162.38 127.5 L163.58 122.5 L169.79 122.5 L170.99 128 L177.21 128 L178.41 115.5 L184.63 115.5 L185.83 103.75 L192.04 103.75 L193.24 109.5 L199.46 109.5 L200.66 128.75 L206.88 128.75 L208.08 126.75 L214.29 126.75 L215.49 125.25 L221.71 125.25 L222.91 123.75 L229.12 123.75 L230.32 112.5 L236.54 112.5 L237.74 109.25 L243.96 109.25 L245.16 126.25 L251.37 126.25 L252.57 127 L258.79 127 L259.99 128 L266.21 128 L267.41 126.25 L273.62 126.25 L274.82 122.5 L281.04 122.5 L282.24 113.75 L288.45 113.75 L289.65 110.75 L295.87 110.75 L297.07 136 L303.29 136 L304.49 127.1 L310.7 127.1 L311.9 127.7 L318.12 127.7 L319.32 127.7 L325.54 127.7 L326.74 130.7 L332.95 130.7 L334.15 116.4 L340.37 116.4 L341.57 114 L347.78 114 L348.98 121 L355.2 121 L356.4 131.3 L362.62 131.3 L363.82 123 L370.03 123 L371.23 132.8 L377.45 132.8 L378.65 120.6 L384.87 120.6 L386.07 111.5 L392.28 111.5 L393.48 113.5 L399.7 113.5 L400.9 127.7 L407.11 127.7 L408.31 131.3 L414.53 131.3 L415.73 120.6 L421.95 120.6 L423.15 123.3 L429 123.3" fill="none" stroke="#EAB839" stroke-width="2" stroke-linejoin="round" />
</svg>
<div class="tk" style="right:445px;top:27.5px">13 Mil</div>
<div class="tk" style="right:445px;top:59.5px">10 Mil</div>
<div class="tk" style="right:445px;top:91.5px">8 Mil</div>
<div class="tk" style="right:445px;top:123.5px">5 Mil</div>
<div class="tk" style="right:445px;top:155.5px">3 Mil</div>
<div class="tk" style="right:445px;top:187.5px">0</div>
<div class="tk" style="left:439px;top:27.5px">125 Mil</div>
<div class="tk" style="left:439px;top:59.5px">100 Mil</div>
<div class="tk" style="left:439px;top:91.5px">75 Mil</div>
<div class="tk" style="left:439px;top:123.5px">50 Mil</div>
<div class="tk" style="left:439px;top:155.5px">25 Mil</div>
<div class="tk" style="left:439px;top:187.5px">0</div>
<div class="tk c" style="left:29.5px;top:202.1px">18:38</div>
<div class="tk c" style="left:89.5px;top:202.1px">18:40</div>
<div class="tk c" style="left:148.5px;top:202.1px">18:42</div>
<div class="tk c" style="left:207.5px;top:202.1px">18:44</div>
<div class="tk c" style="left:266.5px;top:202.1px">18:46</div>
<div class="tk c" style="left:325.5px;top:202.1px">18:48</div>
<div class="tk c" style="left:385.5px;top:202.1px">18:50</div>
<div class="sw" style="left:41px;top:233.75px;background:#7EB26D"></div>
<div class="lg" style="left:58px;top:228px">average</div>
<div class="sw" style="left:418px;top:233.75px;background:#EAB839"></div>
<div class="lg" style="left:434.5px;top:228px">total</div>
</div>
<div class="panel" style="left:23px;top:335px;width:739px;height:252px">
<div class="title">Driver Heap Usage</div>
<svg class="chart" width="739" height="252" viewBox="0 0 739 252">
<rect x="40" y="35" width="673" height="1" fill="#c8c8c8" fill-opacity="0.22"/>
<rect x="40" y="61" width="673" height="1" fill="#c8c8c8" fill-opacity="0.22"/>
<rect x="40" y="88" width="673" height="1" fill="#c8c8c8" fill-opacity="0.22"/>
<rect x="40" y="115" width="673" height="1" fill="#c8c8c8" fill-opacity="0.22"/>
<rect x="40" y="141" width="673" height="1" fill="#c8c8c8" fill-opacity="0.22"/>
<rect x="40" y="168" width="673" height="1" fill="#c8c8c8" fill-opacity="0.22"/>
<rect x="40" y="195" width="673" height="1" fill="#c8c8c8" fill-opacity="0.22"/>
<rect x="59" y="35" width="1" height="160" fill="#c8c8c8" fill-opacity="0.22"/>
<rect x="164" y="35" width="1" height="160" fill="#c8c8c8" fill-opacity="0.22"/>
<rect x="269" y="35" width="1" height="160" fill="#c8c8c8" fill-opacity="0.22"/>
<rect x="374" y="35" width="1" height="160" fill="#c8c8c8" fill-opacity="0.22"/>
<rect x="478" y="35" width="1" height="160" fill="#c8c8c8" fill-opacity="0.22"/>
<rect x="583" y="35" width="1" height="160" fill="#c8c8c8" fill-opacity="0.22"/>
<rect x="688" y="35" width="1" height="160" fill="#c8c8c8" fill-opacity="0.22"/>
<path d="M73.75 158.02 L84 158.02 L85.5 142 L98 142 L99.5 125.98 L162.5 125.98 L164.5 120.64 L202.75 120.64 L204.5 115.3 L319.75 115.3 L321.5 88.6 L386.3 88.6 L388 72.58 L450.8 72.58 L452.5 67.24 L543.8 67.24 L545.5 61.9 L648.5 61.9 L650 142 L687 142 L688.5 131.32 L713 131.32" fill="none" stroke="#7EB26D" stroke-width="2" stroke-linejoin="round" />
</svg>
<div class="tk" style="right:704px;top:27.5px">0.30</div>
<div class="tk" style="right:704px;top:53.5px">0.25</div>
<div class="tk" style="right:704px;top:80.5px">0.20</div>
<div class="tk" style="right:704px;top:107.5px">0.15</div>
<div class="tk" style="right:704px;top:133.5px">0.10</div>
<div class="tk" style="right:704px;top:160.5px">0.05</div>
<div class="tk" style="right:704px;top:187.5px">0</div>
<div class="tk c" style="left:29.5px;top:202.6px">18:38</div>
<div class="tk c" style="left:134.5px;top:202.6px">18:40</div>
<div class="tk c" style="left:239.5px;top:202.6px">18:42</div>
<div class="tk c" style="left:344.5px;top:202.6px">18:44</div>
<div class="tk c" style="left:448.5px;top:202.6px">18:46</div>
<div class="tk c" style="left:553.5px;top:202.6px">18:48</div>
<div class="tk c" style="left:658.5px;top:202.6px">18:50</div>
<div class="sw" style="left:41px;top:233.75px;background:#7EB26D"></div>
<div class="lg" style="left:58px;top:228px">driver</div>
</div>
<div class="panel" style="left:772px;top:335px;width:738px;height:252px">
<div class="title">Driver JVM Memory Pools</div>
<svg class="chart" width="738" height="252" viewBox="0 0 738 252">
<rect x="50" y="35" width="663" height="1" fill="#c8c8c8" fill-opacity="0.22"/>
<rect x="50" y="67" width="663" height="1" fill="#c8c8c8" fill-opacity="0.22"/>
<rect x="50" y="99" width="663" height="1" fill="#c8c8c8" fill-opacity="0.22"/>
<rect x="50" y="131" width="663" height="1" fill="#c8c8c8" fill-opacity="0.22"/>
<rect x="50" y="163" width="663" height="1" fill="#c8c8c8" fill-opacity="0.22"/>
<rect x="50" y="195" width="663" height="1" fill="#c8c8c8" fill-opacity="0.22"/>
<rect x="69" y="35" width="1" height="160" fill="#c8c8c8" fill-opacity="0.22"/>
<rect x="172" y="35" width="1" height="160" fill="#c8c8c8" fill-opacity="0.22"/>
<rect x="275" y="35" width="1" height="160" fill="#c8c8c8" fill-opacity="0.22"/>
<rect x="379" y="35" width="1" height="160" fill="#c8c8c8" fill-opacity="0.22"/>
<rect x="482" y="35" width="1" height="160" fill="#c8c8c8" fill-opacity="0.22"/>
<rect x="585" y="35" width="1" height="160" fill="#c8c8c8" fill-opacity="0.22"/>
<rect x="688" y="35" width="1" height="160" fill="#c8c8c8" fill-opacity="0.22"/>
<path d="M83 194.9 L713 194.9 L713 195.5 L83 195.5Z" fill="#7EB26D" fill-opacity="0.1" stroke="none"/>
<path d="M83 158.75 L93 158.75 L95 142.25 L106.75 142.25 L108.5 127.5 L119 127.5 L120 126.25 L170.5 126.25 L172.5 123.75 L184 123.75 L186 121.5 L210.5 121.5 L212.5 120 L262 120 L264.8 118.2 L273 118.2 L275.8 116.2 L325.7 116.2 L327.7 91.7 L352 91.7 L354 89.8 L390 89.8 L392.5 75.8 L415 75.8 L417 73.8 L454 73.8 L456.8 70.3 L545.6 69 L548 67.3 L649.3 65.3 L651.3 151.1 L660 151.1 L662 149.5 L686.7 149.5 L688.7 139.5 L713 139.1 L713 195.5 L83 195.5Z" fill="#EAB839" fill-opacity="0.1" stroke="none"/>
<path d="M83 195 L649.3 195 L651.3 194.6 L713 194.6 L713 195.5 L83 195.5Z" fill="#6ED0E0" fill-opacity="0.1" stroke="none"/>
<path d="M83 192.5 L93 192.5 L95 192 L106.75 192 L108.5 190.7 L713 190.2 L713 195.5 L83 195.5Z" fill="#EF843C" fill-opacity="0.1" stroke="none"/>
<path d="M83 194.3 L93 194.3 L95 193.9 L649.3 193.9 L651.3 185.7 L713 185.7 L713 195.5 L83 195.5Z" fill="#E24D42" fill-opacity="0.1" stroke="none"/>
<path d="M83 194.9 L713 194.9" fill="none" stroke="#7EB26D" stroke-width="2" stroke-linejoin="round" />
<path d="M83 158.75 L93 158.75 L95 142.25 L106.75 142.25 L108.5 127.5 L119 127.5 L120 126.25 L170.5 126.25 L172.5 123.75 L184 123.75 L186 121.5 L210.5 121.5 L212.5 120 L262 120 L264.8 118.2 L273 118.2 L275.8 116.2 L325.7 116.2 L327.7 91.7 L352 91.7 L354 89.8 L390 89.8 L392.5 75.8 L415 75.8 L417 73.8 L454 73.8 L456.8 70.3 L545.6 69 L548 67.3 L649.3 65.3 L651.3 151.1 L660 151.1 L662 149.5 L686.7 149.5 L688.7 139.5 L713 139.1" fill="none" stroke="#EAB839" stroke-width="2" stroke-linejoin="round" />
<path d="M83 195 L649.3 195 L651.3 194.6 L713 194.6" fill="none" stroke="#6ED0E0" stroke-width="2" stroke-linejoin="round" />
<path d="M83 192.5 L93 192.5 L95 192 L106.75 192 L108.5 190.7 L713 190.2" fill="none" stroke="#EF843C" stroke-width="2" stroke-linejoin="round" />
<path d="M83 194.3 L93 194.3 L95 193.9 L649.3 193.9 L651.3 185.7 L713 185.7" fill="none" stroke="#E24D42" stroke-width="2" stroke-linejoin="round" />
</svg>
<div class="tk" style="right:694px;top:27.5px">5.0 Bil</div>
<div class="tk" style="right:694px;top:59.5px">4.0 Bil</div>
<div class="tk" style="right:694px;top:91.5px">3.0 Bil</div>
<div class="tk" style="right:694px;top:123.5px">2.0 Bil</div>
<div class="tk" style="right:694px;top:155.5px">1.0 Bil</div>
<div class="tk" style="right:694px;top:187.5px">0</div>
<div class="tk c" style="left:39.5px;top:202.6px">18:38</div>
<div class="tk c" style="left:142.5px;top:202.6px">18:40</div>
<div class="tk c" style="left:245.5px;top:202.6px">18:42</div>
<div class="tk c" style="left:349.5px;top:202.6px">18:44</div>
<div class="tk c" style="left:452.5px;top:202.6px">18:46</div>
<div class="tk c" style="left:555.5px;top:202.6px">18:48</div>
<div class="tk c" style="left:658.5px;top:202.6px">18:50</div>
<div class="sw" style="left:40.4px;top:233.75px;background:#7EB26D"></div>
<div class="lg" style="left:57.3px;top:228px">Code-Cache</div>
<div class="sw" style="left:135px;top:233.75px;background:#EAB839"></div>
<div class="lg" style="left:152px;top:228px">PS-Eden-Space</div>
<div class="sw" style="left:247.4px;top:233.75px;background:#6ED0E0"></div>
<div class="lg" style="left:264.3px;top:228px">PS-Old-Gen</div>
<div class="sw" style="left:340px;top:233.75px;background:#EF843C"></div>
<div class="lg" style="left:356.6px;top:228px">PS-Perm-Gen</div>
<div class="sw" style="left:441px;top:233.75px;background:#E24D42"></div>
<div class="lg" style="left:458.3px;top:228px">PS-Survivor-Space</div>
</div>
<div class="panel" style="left:23px;top:597px;width:489px;height:252px">
<div class="title">Executor Heap Usage</div>
<svg class="chart" width="489" height="252" viewBox="0 0 489 252">
<rect x="33" y="35" width="430" height="1" fill="#c8c8c8" fill-opacity="0.22"/>
<rect x="33" y="72" width="430" height="1" fill="#c8c8c8" fill-opacity="0.22"/>
<rect x="33" y="109" width="430" height="1" fill="#c8c8c8" fill-opacity="0.22"/>
<rect x="33" y="146" width="430" height="1" fill="#c8c8c8" fill-opacity="0.22"/>
<rect x="33" y="183" width="430" height="1" fill="#c8c8c8" fill-opacity="0.22"/>
<rect x="33" y="221" width="430" height="1" fill="#c8c8c8" fill-opacity="0.22"/>
<rect x="45" y="35" width="1" height="186" fill="#c8c8c8" fill-opacity="0.22"/>
<rect x="112" y="35" width="1" height="186" fill="#c8c8c8" fill-opacity="0.22"/>
<rect x="179" y="35" width="1" height="186" fill="#c8c8c8" fill-opacity="0.22"/>
<rect x="246" y="35" width="1" height="186" fill="#c8c8c8" fill-opacity="0.22"/>
<rect x="313" y="35" width="1" height="186" fill="#c8c8c8" fill-opacity="0.22"/>
<rect x="380" y="35" width="1" height="186" fill="#c8c8c8" fill-opacity="0.22"/>
<rect x="447" y="35" width="1" height="186" fill="#c8c8c8" fill-opacity="0.22"/>
<path d="M61.7 184.3 L68.28 184.3 L70.08 199.18 L76.65 199.18 L78.45 156.4 L85.03 156.4 L86.83 141.52 L93.4 141.52 L95.2 119.2 L101.78 119.2 L103.58 109.9 L110.15 109.9 L111.95 134.08 L118.52 134.08 L120.32 135.94 L126.9 135.94 L128.7 111.76 L135.27 111.76 L137.07 122.92 L143.65 122.92 L145.45 124.78 L152.02 124.78 L153.82 111.76 L160.4 111.76 L162.2 74.56 L168.77 74.56 L170.57 102.46 L177.15 102.46 L178.95 80.14 L185.52 80.14 L187.32 113.62 L193.9 113.62 L195.7 91.3 L202.27 91.3 L204.07 68.98 L210.65 68.98 L212.45 78.28 L219.02 78.28 L220.82 108.04 L227.4 108.04 L229.2 74.56 L235.77 74.56 L237.57 70.84 L244.15 70.84 L245.95 59.68 L252.52 59.68 L254.32 109.9 L260.9 109.9 L262.7 83.86 L269.27 83.86 L271.07 70.84 L277.65 70.84 L279.45 108.04 L286.02 108.04 L287.82 96.88 L294.4 96.88 L296.2 96.88 L302.77 96.88 L304.57 80.14 L311.15 80.14 L312.95 113.62 L319.52 113.62 L321.32 74.56 L327.9 74.56 L329.7 122.92 L336.27 122.92 L338.07 111.76 L344.65 111.76 L346.45 102.46 L353.02 102.46 L354.82 54.1 L361.4 54.1 L363.2 134.08 L369.77 134.08 L371.57 113.62 L378.15 113.62 L379.95 85.72 L386.52 85.72 L388.32 70.84 L394.9 70.84 L396.7 59.68 L403.27 59.68 L405.07 76.42 L411.65 76.42 L413.45 102.46 L420.02 102.46 L421.82 102.46 L428.4 102.46 L430.2 102.46 L436.77 102.46 L438.57 89.44 L445.15 89.44 L446.95 76.42 L453.52 76.42 L455.32 65.26 L463 65.26" fill="none" stroke="#7EB26D" stroke-width="2" stroke-linejoin="round" />
<path d="M61.7 184.3 L68.28 184.3 L70.08 199.18 L76.65 199.18 L78.45 154.54 L85.03 154.54 L86.83 137.8 L93.4 137.8 L95.2 106.18 L101.78 106.18 L103.58 117.34 L110.15 117.34 L111.95 104.32 L118.52 104.32 L120.32 104.32 L126.9 104.32 L128.7 89.44 L135.27 89.44 L137.07 102.46 L143.65 102.46 L145.45 67.12 L152.02 67.12 L153.82 87.58 L160.4 87.58 L162.2 100.6 L168.77 100.6 L170.57 78.28 L177.15 78.28 L178.95 109.9 L185.52 109.9 L187.32 59.68 L193.9 59.68 L195.7 115.48 L202.27 115.48 L204.07 85.72 L210.65 85.72 L212.45 78.28 L219.02 78.28 L220.82 82 L227.4 82 L229.2 67.12 L235.77 67.12 L237.57 76.42 L244.15 76.42 L245.95 115.48 L252.52 115.48 L254.32 63.4 L260.9 63.4 L262.7 82 L269.27 82 L271.07 96.88 L277.65 96.88 L279.45 72.7 L286.02 72.7 L287.82 74.56 L294.4 74.56 L296.2 67.12 L302.77 67.12 L304.57 87.58 L311.15 87.58 L312.95 115.48 L319.52 115.48 L321.32 89.44 L327.9 89.44 L329.7 70.84 L336.27 70.84 L338.07 61.54 L344.65 61.54 L346.45 109.9 L353.02 109.9 L354.82 100.6 L361.4 100.6 L363.2 67.12 L369.77 67.12 L371.57 87.58 L378.15 87.58 L379.95 106.18 L386.52 106.18 L388.32 102.46 L394.9 102.46 L396.7 82 L403.27 82 L405.07 91.3 L411.65 91.3 L413.45 82 L420.02 82 L421.82 106.18 L428.4 106.18 L430.2 98.74 L436.77 98.74 L438.57 113.62 L445.15 113.62 L446.95 85.72 L453.52 85.72 L455.32 85.72 L463 85.72" fill="none" stroke="#EAB839" stroke-width="2" stroke-linejoin="round" />
<path d="M61.7 184.3 L68.28 184.3 L70.08 176.86 L76.65 176.86 L78.45 163.84 L85.03 163.84 L86.83 161.98 L93.4 161.98 L95.2 124.78 L101.78 124.78 L103.58 122.92 L110.15 122.92 L111.95 85.72 L118.52 85.72 L120.32 106.18 L126.9 106.18 L128.7 83.86 L135.27 83.86 L137.07 132.22 L143.65 132.22 L145.45 89.44 L152.02 89.44 L153.82 117.34 L160.4 117.34 L162.2 74.56 L168.77 74.56 L170.57 104.32 L177.15 104.32 L178.95 68.98 L185.52 68.98 L187.32 106.18 L193.9 106.18 L195.7 134.08 L202.27 134.08 L204.07 87.58 L210.65 87.58 L212.45 65.26 L219.02 65.26 L220.82 102.46 L227.4 102.46 L229.2 59.68 L235.77 59.68 L237.57 104.32 L244.15 104.32 L245.95 59.68 L252.52 59.68 L254.32 111.76 L260.9 111.76 L262.7 85.72 L269.27 85.72 L271.07 106.18 L277.65 106.18 L279.45 96.88 L286.02 96.88 L287.82 115.48 L294.4 115.48 L296.2 93.16 L302.77 93.16 L304.57 63.4 L311.15 63.4 L312.95 78.28 L319.52 78.28 L321.32 78.28 L327.9 78.28 L329.7 104.32 L336.27 104.32 L338.07 130.36 L344.65 130.36 L346.45 83.86 L353.02 83.86 L354.82 78.28 L361.4 78.28 L363.2 78.28 L369.77 78.28 L371.57 115.48 L378.15 115.48 L379.95 70.84 L386.52 70.84 L388.32 113.62 L394.9 113.62 L396.7 87.58 L403.27 87.58 L405.07 78.28 L411.65 78.28 L413.45 111.76 L420.02 111.76 L421.82 93.16 L428.4 93.16 L430.2 63.4 L436.77 63.4 L438.57 67.12 L445.15 67.12 L446.95 95.02 L453.52 95.02 L455.32 87.58 L463 87.58" fill="none" stroke="#6ED0E0" stroke-width="2" stroke-linejoin="round" />
<path d="M61.7 184.3 L68.28 184.3 L70.08 199.18 L76.65 199.18 L78.45 145.24 L85.03 145.24 L86.83 130.36 L93.4 130.36 L95.2 124.78 L101.78 124.78 L103.58 115.48 L110.15 115.48 L111.95 111.76 L118.52 111.76 L120.32 78.28 L126.9 78.28 L128.7 98.74 L135.27 98.74 L137.07 83.86 L143.65 83.86 L145.45 72.7 L152.02 72.7 L153.82 106.18 L160.4 106.18 L162.2 126.64 L168.77 126.64 L170.57 102.46 L177.15 102.46 L178.95 113.62 L185.52 113.62 L187.32 117.34 L193.9 117.34 L195.7 137.8 L202.27 137.8 L204.07 82 L210.65 82 L212.45 111.76 L219.02 111.76 L220.82 100.6 L227.4 100.6 L229.2 96.88 L235.77 96.88 L237.57 100.6 L244.15 100.6 L245.95 85.72 L252.52 85.72 L254.32 100.6 L260.9 100.6 L262.7 113.62 L269.27 113.62 L271.07 76.42 L277.65 76.42 L279.45 70.84 L286.02 70.84 L287.82 59.68 L294.4 59.68 L296.2 76.42 L302.77 76.42 L304.57 93.16 L311.15 93.16 L312.95 52.24 L319.52 52.24 L321.32 115.48 L327.9 115.48 L329.7 67.12 L336.27 67.12 L338.07 102.46 L344.65 102.46 L346.45 83.86 L353.02 83.86 L354.82 61.54 L361.4 61.54 L363.2 100.6 L369.77 100.6 L371.57 67.12 L378.15 67.12 L379.95 65.26 L386.52 65.26 L388.32 72.7 L394.9 72.7 L396.7 143.38 L403.27 143.38 L405.07 70.84 L411.65 70.84 L413.45 109.9 L420.02 109.9 L421.82 72.7 L428.4 72.7 L430.2 109.9 L436.77 109.9 L438.57 80.14 L445.15 80.14 L446.95 61.54 L453.52 61.54 L455.32 83.86 L463 83.86" fill="none" stroke="#EF843C" stroke-width="2" stroke-linejoin="round" />
<path d="M61.7 184.3 L68.28 184.3 L70.08 199.18 L76.65 199.18 L78.45 169.42 L85.03 169.42 L86.83 139.66 L93.4 139.66 L95.2 122.92 L101.78 122.92 L103.58 135.94 L110.15 135.94 L111.95 130.36 L118.52 130.36 L120.32 87.58 L126.9 87.58 L128.7 130.36 L135.27 130.36 L137.07 67.12 L143.65 67.12 L145.45 121.06 L152.02 121.06 L153.82 124.78 L160.4 124.78 L162.2 74.56 L168.77 74.56 L170.57 113.62 L177.15 113.62 L178.95 115.48 L185.52 115.48 L187.32 100.6 L193.9 100.6 L195.7 111.76 L202.27 111.76 L204.07 113.62 L210.65 113.62 L212.45 91.3 L219.02 91.3 L220.82 85.72 L227.4 85.72 L229.2 106.18 L235.77 106.18 L237.57 68.98 L244.15 68.98 L245.95 108.04 L252.52 108.04 L254.32 59.68 L260.9 59.68 L262.7 70.84 L269.27 70.84 L271.07 74.56 L277.65 74.56 L279.45 135.94 L286.02 135.94 L287.82 83.86 L294.4 83.86 L296.2 74.56 L302.77 74.56 L304.57 76.42 L311.15 76.42 L312.95 61.54 L319.52 61.54 L321.32 59.68 L327.9 59.68 L329.7 85.72 L336.27 85.72 L338.07 72.7 L344.65 72.7 L346.45 72.7 L353.02 72.7 L354.82 83.86 L361.4 83.86 L363.2 65.26 L369.77 65.26 L371.57 59.68 L378.15 59.68 L379.95 93.16 L386.52 93.16 L388.32 74.56 L394.9 74.56 L396.7 96.88 L403.27 96.88 L405.07 82 L411.65 82 L413.45 61.54 L420.02 61.54 L421.82 100.6 L428.4 100.6 L430.2 89.44 L436.77 89.44 L438.57 91.3 L445.15 91.3 L446.95 74.56 L453.52 74.56 L455.32 91.3 L463 91.3" fill="none" stroke="#E24D42" stroke-width="2" stroke-linejoin="round" />
<path d="M61.7 184.3 L68.28 184.3 L70.08 199.18 L76.65 199.18 L78.45 184.3 L85.03 184.3 L86.83 134.08 L93.4 134.08 L95.2 132.22 L101.78 132.22 L103.58 111.76 L110.15 111.76 L111.95 137.8 L118.52 137.8 L120.32 68.98 L126.9 68.98 L128.7 106.18 L135.27 106.18 L137.07 126.64 L143.65 126.64 L145.45 76.42 L152.02 76.42 L153.82 115.48 L160.4 115.48 L162.2 119.2 L168.77 119.2 L170.57 76.42 L177.15 76.42 L178.95 108.04 L185.52 108.04 L187.32 82 L193.9 82 L195.7 82 L202.27 82 L204.07 59.68 L210.65 59.68 L212.45 89.44 L219.02 89.44 L220.82 59.68 L227.4 59.68 L229.2 63.4 L235.77 63.4 L237.57 108.04 L244.15 108.04 L245.95 61.54 L252.52 61.54 L254.32 70.84 L260.9 70.84 L262.7 96.88 L269.27 96.88 L271.07 100.6 L277.65 100.6 L279.45 68.98 L286.02 68.98 L287.82 87.58 L294.4 87.58 L296.2 100.6 L302.77 100.6 L304.57 93.16 L311.15 93.16 L312.95 67.12 L319.52 67.12 L321.32 102.46 L327.9 102.46 L329.7 57.82 L336.27 57.82 L338.07 74.56 L344.65 74.56 L346.45 87.58 L353.02 87.58 L354.82 85.72 L361.4 85.72 L363.2 67.12 L369.77 67.12 L371.57 80.14 L378.15 80.14 L379.95 95.02 L386.52 95.02 L388.32 89.44 L394.9 89.44 L396.7 82 L403.27 82 L405.07 87.58 L411.65 87.58 L413.45 113.62 L420.02 113.62 L421.82 93.16 L428.4 93.16 L430.2 76.42 L436.77 76.42 L438.57 82 L445.15 82 L446.95 85.72 L453.52 85.72 L455.32 104.32 L463 104.32" fill="none" stroke="#1F78C1" stroke-width="2" stroke-linejoin="round" />
<path d="M61.7 184.3 L68.28 184.3 L70.08 199.18 L76.65 199.18 L78.45 154.54 L85.03 154.54 L86.83 143.38 L93.4 143.38 L95.2 119.2 L101.78 119.2 L103.58 108.04 L110.15 108.04 L111.95 85.72 L118.52 85.72 L120.32 122.92 L126.9 122.92 L128.7 122.92 L135.27 122.92 L137.07 96.88 L143.65 96.88 L145.45 82 L152.02 82 L153.82 117.34 L160.4 117.34 L162.2 87.58 L168.77 87.58 L170.57 96.88 L177.15 96.88 L178.95 106.18 L185.52 106.18 L187.32 100.6 L193.9 100.6 L195.7 80.14 L202.27 80.14 L204.07 126.64 L210.65 126.64 L212.45 59.68 L219.02 59.68 L220.82 111.76 L227.4 111.76 L229.2 78.28 L235.77 78.28 L237.57 106.18 L244.15 106.18 L245.95 121.06 L252.52 121.06 L254.32 78.28 L260.9 78.28 L262.7 106.18 L269.27 106.18 L271.07 61.54 L277.65 61.54 L279.45 91.3 L286.02 91.3 L287.82 68.98 L294.4 68.98 L296.2 52.24 L302.77 52.24 L304.57 78.28 L311.15 78.28 L312.95 93.16 L319.52 93.16 L321.32 113.62 L327.9 113.62 L329.7 98.74 L336.27 98.74 L338.07 63.4 L344.65 63.4 L346.45 95.02 L353.02 95.02 L354.82 93.16 L361.4 93.16 L363.2 96.88 L369.77 96.88 L371.57 61.54 L378.15 61.54 L379.95 109.9 L386.52 109.9 L388.32 100.6 L394.9 100.6 L396.7 109.9 L403.27 109.9 L405.07 104.32 L411.65 104.32 L413.45 132.22 L420.02 132.22 L421.82 68.98 L428.4 68.98 L430.2 67.12 L436.77 67.12 L438.57 78.28 L445.15 78.28 L446.95 82 L453.52 82 L455.32 63.4 L463 63.4" fill="none" stroke="#BA43A9" stroke-width="2" stroke-linejoin="round" />
<path d="M61.7 184.3 L68.28 184.3 L70.08 199.18 L76.65 199.18 L78.45 184.3 L85.03 184.3 L86.83 143.38 L93.4 143.38 L95.2 111.76 L101.78 111.76 L103.58 158.26 L110.15 158.26 L111.95 106.18 L118.52 106.18 L120.32 111.76 L126.9 111.76 L128.7 93.16 L135.27 93.16 L137.07 76.42 L143.65 76.42 L145.45 122.92 L152.02 122.92 L153.82 104.32 L160.4 104.32 L162.2 70.84 L168.77 70.84 L170.57 113.62 L177.15 113.62 L178.95 122.92 L185.52 122.92 L187.32 98.74 L193.9 98.74 L195.7 104.32 L202.27 104.32 L204.07 98.74 L210.65 98.74 L212.45 80.14 L219.02 80.14 L220.82 70.84 L227.4 70.84 L229.2 74.56 L235.77 74.56 L237.57 102.46 L244.15 102.46 L245.95 87.58 L252.52 87.58 L254.32 87.58 L260.9 87.58 L262.7 113.62 L269.27 113.62 L271.07 95.02 L277.65 95.02 L279.45 85.72 L286.02 85.72 L287.82 80.14 L294.4 80.14 L296.2 70.84 L302.77 70.84 L304.57 119.2 L311.15 119.2 L312.95 93.16 L319.52 93.16 L321.32 93.16 L327.9 93.16 L329.7 76.42 L336.27 76.42 L338.07 89.44 L344.65 89.44 L346.45 82 L353.02 82 L354.82 109.9 L361.4 109.9 L363.2 63.4 L369.77 63.4 L371.57 115.48 L378.15 115.48 L379.95 76.42 L386.52 76.42 L388.32 63.4 L394.9 63.4 L396.7 128.5 L403.27 128.5 L405.07 121.06 L411.65 121.06 L413.45 65.26 L420.02 65.26 L421.82 67.12 L428.4 67.12 L430.2 80.14 L436.77 80.14 L438.57 74.56 L445.15 74.56 L446.95 76.42 L453.52 76.42 L455.32 91.3 L463 91.3" fill="none" stroke="#705DA0" stroke-width="2" stroke-linejoin="round" />
<path d="M61.7 184.3 L68.28 184.3 L70.08 199.18 L76.65 199.18 L78.45 169.42 L85.03 169.42 L86.83 121.06 L93.4 121.06 L95.2 95.02 L101.78 95.02 L103.58 152.68 L110.15 152.68 L111.95 113.62 L118.52 113.62 L120.32 78.28 L126.9 78.28 L128.7 122.92 L135.27 122.92 L137.07 87.58 L143.65 87.58 L145.45 59.68 L152.02 59.68 L153.82 87.58 L160.4 87.58 L162.2 65.26 L168.77 65.26 L170.57 89.44 L177.15 89.44 L178.95 100.6 L185.52 100.6 L187.32 85.72 L193.9 85.72 L195.7 72.7 L202.27 72.7 L204.07 65.26 L210.65 65.26 L212.45 76.42 L219.02 76.42 L220.82 63.4 L227.4 63.4 L229.2 68.98 L235.77 68.98 L237.57 93.16 L244.15 93.16 L245.95 80.14 L252.52 80.14 L254.32 102.46 L260.9 102.46 L262.7 102.46 L269.27 102.46 L271.07 72.7 L277.65 72.7 L279.45 108.04 L286.02 108.04 L287.82 106.18 L294.4 106.18 L296.2 113.62 L302.77 113.62 L304.57 74.56 L311.15 74.56 L312.95 95.02 L319.52 95.02 L321.32 102.46 L327.9 102.46 L329.7 108.04 L336.27 108.04 L338.07 72.7 L344.65 72.7 L346.45 96.88 L353.02 96.88 L354.82 68.98 L361.4 68.98 L363.2 63.4 L369.77 63.4 L371.57 63.4 L378.15 63.4 L379.95 104.32 L386.52 104.32 L388.32 113.62 L394.9 113.62 L396.7 70.84 L403.27 70.84 L405.07 93.16 L411.65 93.16 L413.45 72.7 L420.02 72.7 L421.82 68.98 L428.4 68.98 L430.2 87.58 L436.77 87.58 L438.57 83.86 L445.15 83.86 L446.95 74.56 L453.52 74.56 L455.32 78.28 L463 78.28" fill="none" stroke="#508642" stroke-width="2" stroke-linejoin="round" />
<path d="M61.7 184.3 L68.28 184.3 L70.08 199.18 L76.65 199.18 L78.45 167.56 L85.03 167.56 L86.83 145.24 L93.4 145.24 L95.2 106.18 L101.78 106.18 L103.58 124.78 L110.15 124.78 L111.95 139.66 L118.52 139.66 L120.32 109.9 L126.9 109.9 L128.7 93.16 L135.27 93.16 L137.07 70.84 L143.65 70.84 L145.45 104.32 L152.02 104.32 L153.82 135.94 L160.4 135.94 L162.2 132.22 L168.77 132.22 L170.57 82 L177.15 82 L178.95 108.04 L185.52 108.04 L187.32 74.56 L193.9 74.56 L195.7 76.42 L202.27 76.42 L204.07 76.42 L210.65 76.42 L212.45 115.48 L219.02 115.48 L220.82 78.28 L227.4 78.28 L229.2 96.88 L235.77 96.88 L237.57 96.88 L244.15 96.88 L245.95 74.56 L252.52 74.56 L254.32 74.56 L260.9 74.56 L262.7 65.26 L269.27 65.26 L271.07 96.88 L277.65 96.88 L279.45 59.68 L286.02 59.68 L287.82 100.6 L294.4 100.6 L296.2 98.74 L302.77 98.74 L304.57 82 L311.15 82 L312.95 61.54 L319.52 61.54 L321.32 104.32 L327.9 104.32 L329.7 91.3 L336.27 91.3 L338.07 85.72 L344.65 85.72 L346.45 82 L353.02 82 L354.82 96.88 L361.4 96.88 L363.2 74.56 L369.77 74.56 L371.57 98.74 L378.15 98.74 L379.95 126.64 L386.52 126.64 L388.32 82 L394.9 82 L396.7 74.56 L403.27 74.56 L405.07 78.28 L411.65 78.28 L413.45 113.62 L420.02 113.62 L421.82 108.04 L428.4 108.04 L430.2 82 L436.77 82 L438.57 104.32 L445.15 104.32 L446.95 98.74 L453.52 98.74 L455.32 126.64 L463 126.64" fill="none" stroke="#CCA300" stroke-width="2" stroke-linejoin="round" />
</svg>
<div class="tk" style="right:461px;top:27.5px">1.0</div>
<div class="tk" style="right:461px;top:64.5px">0.8</div>
<div class="tk" style="right:461px;top:101.5px">0.6</div>
<div class="tk" style="right:461px;top:138.5px">0.4</div>
<div class="tk" style="right:461px;top:175.5px">0.2</div>
<div class="tk" style="right:461px;top:213.5px">0</div>
<div class="tk c" style="left:15.5px;top:228.1px">18:38</div>
<div class="tk c" style="left:82.5px;top:228.1px">18:40</div>
<div class="tk c" style="left:149.5px;top:228.1px">18:42</div>
<div class="tk c" style="left:216.5px;top:228.1px">18:44</div>
<div class="tk c" style="left:283.5px;top:228.1px">18:46</div>
<div class="tk c" style="left:350.5px;top:228.1px">18:48</div>
<div class="tk c" style="left:417.5px;top:228.1px">18:50</div>
</div>
<div class="panel" style="left:522px;top:597px;width:489px;height:252px">
<div class="title">Executor Eden-Space</div>
<svg class="chart" width="489" height="252" viewBox="0 0 489 252">
<rect x="40" y="35" width="423" height="1" fill="#c8c8c8" fill-opacity="0.22"/>
<rect x="40" y="72" width="423" height="1" fill="#c8c8c8" fill-opacity="0.22"/>
<rect x="40" y="109" width="423" height="1" fill="#c8c8c8" fill-opacity="0.22"/>
<rect x="40" y="146" width="423" height="1" fill="#c8c8c8" fill-opacity="0.22"/>
<rect x="40" y="183" width="423" height="1" fill="#c8c8c8" fill-opacity="0.22"/>
<rect x="40" y="221" width="423" height="1" fill="#c8c8c8" fill-opacity="0.22"/>
<rect x="52" y="35" width="1" height="186" fill="#c8c8c8" fill-opacity="0.22"/>
<rect x="118" y="35" width="1" height="186" fill="#c8c8c8" fill-opacity="0.22"/>
<rect x="184" y="35" width="1" height="186" fill="#c8c8c8" fill-opacity="0.22"/>
<rect x="249" y="35" width="1" height="186" fill="#c8c8c8" fill-opacity="0.22"/>
<rect x="315" y="35" width="1" height="186" fill="#c8c8c8" fill-opacity="0.22"/>
<rect x="381" y="35" width="1" height="186" fill="#c8c8c8" fill-opacity="0.22"/>
<rect x="447" y="35" width="1" height="186" fill="#c8c8c8" fill-opacity="0.22"/>
<path d="M68.5 111.39 L74.53 111.39 L76.73 167.93 L82.76 167.93 L84.96 220.01 L90.99 220.01 L93.19 78.65 L99.21 78.65 L101.41 188.76 L107.44 188.76 L109.64 220.01 L115.67 220.01 L117.87 208.11 L123.9 208.11 L126.1 196.2 L132.13 196.2 L134.33 148.59 L140.36 148.59 L142.56 83.12 L148.59 83.12 L150.79 173.88 L156.82 173.88 L159.02 141.15 L165.04 141.15 L167.24 175.37 L173.27 175.37 L175.47 166.44 L181.5 166.44 L183.7 133.71 L189.73 133.71 L191.93 163.47 L197.96 163.47 L200.16 117.34 L206.19 117.34 L208.39 205.13 L214.42 205.13 L216.62 93.53 L222.65 93.53 L224.85 156.03 L230.87 156.03 L233.07 176.86 L239.1 176.86 L241.3 209.6 L247.33 209.6 L249.53 102.46 L255.56 102.46 L257.76 218.52 L263.79 218.52 L265.99 220.01 L272.02 220.01 L274.22 217.04 L280.25 217.04 L282.45 193.23 L288.48 193.23 L290.68 164.96 L296.7 164.96 L298.9 191.74 L304.93 191.74 L307.13 112.88 L313.16 112.88 L315.36 206.62 L321.39 206.62 L323.59 130.73 L329.62 130.73 L331.82 178.35 L337.85 178.35 L340.05 151.56 L346.08 151.56 L348.28 220.01 L354.31 220.01 L356.51 188.76 L362.53 188.76 L364.73 209.6 L370.76 209.6 L372.96 196.2 L378.99 196.2 L381.19 136.68 L387.22 136.68 L389.42 127.76 L395.45 127.76 L397.65 80.14 L403.68 80.14 L405.88 206.62 L411.91 206.62 L414.11 193.23 L420.14 193.23 L422.34 90.56 L428.36 90.56 L430.56 221.5 L436.59 221.5 L438.79 221.5 L444.82 221.5 L447.02 93.53 L453.05 93.53 L455.25 144.12 L463 144.12" fill="none" stroke="#7EB26D" stroke-width="2" stroke-linejoin="round" />
<path d="M68.5 110.35 L74.53 110.35 L76.73 83.12 L82.76 83.12 L84.96 93.53 L90.99 93.53 L93.19 214.06 L99.21 214.06 L101.41 194.72 L107.44 194.72 L109.64 145.61 L115.67 145.61 L117.87 209.6 L123.9 209.6 L126.1 90.56 L132.13 90.56 L134.33 106.92 L140.36 106.92 L142.56 87.58 L148.59 87.58 L150.79 188.76 L156.82 188.76 L159.02 109.9 L165.04 109.9 L167.24 182.81 L173.27 182.81 L175.47 153.05 L181.5 153.05 L183.7 115.85 L189.73 115.85 L191.93 221.5 L197.96 221.5 L200.16 175.37 L206.19 175.37 L208.39 190.25 L214.42 190.25 L216.62 136.68 L222.65 136.68 L224.85 209.6 L230.87 209.6 L233.07 205.13 L239.1 205.13 L241.3 182.81 L247.33 182.81 L249.53 214.06 L255.56 214.06 L257.76 172.4 L263.79 172.4 L265.99 160.49 L272.02 160.49 L274.22 214.06 L280.25 214.06 L282.45 175.37 L288.48 175.37 L290.68 106.92 L296.7 106.92 L298.9 102.46 L304.93 102.46 L307.13 95.02 L313.16 95.02 L315.36 100.97 L321.39 100.97 L323.59 218.52 L329.62 218.52 L331.82 163.47 L337.85 163.47 L340.05 218.52 L346.08 218.52 L348.28 196.2 L354.31 196.2 L356.51 205.13 L362.53 205.13 L364.73 187.28 L370.76 187.28 L372.96 123.29 L378.99 123.29 L381.19 209.6 L387.22 209.6 L389.42 142.64 L395.45 142.64 L397.65 103.95 L403.68 103.95 L405.88 103.95 L411.91 103.95 L414.11 99.48 L420.14 99.48 L422.34 221.5 L428.36 221.5 L430.56 89.07 L436.59 89.07 L438.79 81.63 L444.82 81.63 L447.02 106.92 L453.05 106.92 L455.25 193.23 L463 193.23" fill="none" stroke="#EAB839" stroke-width="2" stroke-linejoin="round" />
<path d="M68.5 109.3 L74.53 109.3 L76.73 144.12 L82.76 144.12 L84.96 151.56 L90.99 151.56 L93.19 221.5 L99.21 221.5 L101.41 206.62 L107.44 206.62 L109.64 161.98 L115.67 161.98 L117.87 130.73 L123.9 130.73 L126.1 142.64 L132.13 142.64 L134.33 138.17 L140.36 138.17 L142.56 108.41 L148.59 108.41 L150.79 200.67 L156.82 200.67 L159.02 164.96 L165.04 164.96 L167.24 151.56 L173.27 151.56 L175.47 77.16 L181.5 77.16 L183.7 83.12 L189.73 83.12 L191.93 105.44 L197.96 105.44 L200.16 220.01 L206.19 220.01 L208.39 220.01 L214.42 220.01 L216.62 106.92 L222.65 106.92 L224.85 115.85 L230.87 115.85 L233.07 179.84 L239.1 179.84 L241.3 221.5 L247.33 221.5 L249.53 218.52 L255.56 218.52 L257.76 208.11 L263.79 208.11 L265.99 151.56 L272.02 151.56 L274.22 126.27 L280.25 126.27 L282.45 103.95 L288.48 103.95 L290.68 193.23 L296.7 193.23 L298.9 221.5 L304.93 221.5 L307.13 217.04 L313.16 217.04 L315.36 96.51 L321.39 96.51 L323.59 190.25 L329.62 190.25 L331.82 209.6 L337.85 209.6 L340.05 218.52 L346.08 218.52 L348.28 209.6 L354.31 209.6 L356.51 196.2 L362.53 196.2 L364.73 123.29 L370.76 123.29 L372.96 98 L378.99 98 L381.19 176.86 L387.22 176.86 L389.42 142.64 L395.45 142.64 L397.65 81.63 L403.68 81.63 L405.88 84.6 L411.91 84.6 L414.11 179.84 L420.14 179.84 L422.34 151.56 L428.36 151.56 L430.56 86.09 L436.59 86.09 L438.79 124.78 L444.82 124.78 L447.02 84.6 L453.05 84.6 L455.25 166.44 L463 166.44" fill="none" stroke="#6ED0E0" stroke-width="2" stroke-linejoin="round" />
<path d="M68.5 108.26 L74.53 108.26 L76.73 214.06 L82.76 214.06 L84.96 217.04 L90.99 217.04 L93.19 178.35 L99.21 178.35 L101.41 96.51 L107.44 96.51 L109.64 83.12 L115.67 83.12 L117.87 178.35 L123.9 178.35 L126.1 126.27 L132.13 126.27 L134.33 194.72 L140.36 194.72 L142.56 169.42 L148.59 169.42 L150.79 109.9 L156.82 109.9 L159.02 175.37 L165.04 175.37 L167.24 181.32 L173.27 181.32 L175.47 167.93 L181.5 167.93 L183.7 112.88 L189.73 112.88 L191.93 108.41 L197.96 108.41 L200.16 129.24 L206.19 129.24 L208.39 86.09 L214.42 86.09 L216.62 120.32 L222.65 120.32 L224.85 102.46 L230.87 102.46 L233.07 117.34 L239.1 117.34 L241.3 124.78 L247.33 124.78 L249.53 209.6 L255.56 209.6 L257.76 200.67 L263.79 200.67 L265.99 102.46 L272.02 102.46 L274.22 217.04 L280.25 217.04 L282.45 221.5 L288.48 221.5 L290.68 89.07 L296.7 89.07 L298.9 111.39 L304.93 111.39 L307.13 103.95 L313.16 103.95 L315.36 205.13 L321.39 205.13 L323.59 132.22 L329.62 132.22 L331.82 221.5 L337.85 221.5 L340.05 133.71 L346.08 133.71 L348.28 209.6 L354.31 209.6 L356.51 196.2 L362.53 196.2 L364.73 214.06 L370.76 214.06 L372.96 209.6 L378.99 209.6 L381.19 109.9 L387.22 109.9 L389.42 108.41 L395.45 108.41 L397.65 185.79 L403.68 185.79 L405.88 187.28 L411.91 187.28 L414.11 161.98 L420.14 161.98 L422.34 90.56 L428.36 90.56 L430.56 202.16 L436.59 202.16 L438.79 105.44 L444.82 105.44 L447.02 87.58 L453.05 87.58 L455.25 80.14 L463 80.14" fill="none" stroke="#EF843C" stroke-width="2" stroke-linejoin="round" />
<path d="M68.5 107.22 L74.53 107.22 L76.73 218.52 L82.76 218.52 L84.96 77.16 L90.99 77.16 L93.19 209.6 L99.21 209.6 L101.41 172.4 L107.44 172.4 L109.64 181.32 L115.67 181.32 L117.87 203.64 L123.9 203.64 L126.1 161.98 L132.13 161.98 L134.33 218.52 L140.36 218.52 L142.56 218.52 L148.59 218.52 L150.79 96.51 L156.82 96.51 L159.02 184.3 L165.04 184.3 L167.24 136.68 L173.27 136.68 L175.47 123.29 L181.5 123.29 L183.7 145.61 L189.73 145.61 L191.93 156.03 L197.96 156.03 L200.16 166.44 L206.19 166.44 L208.39 221.5 L214.42 221.5 L216.62 181.32 L222.65 181.32 L224.85 214.06 L230.87 214.06 L233.07 199.18 L239.1 199.18 L241.3 153.05 L247.33 153.05 L249.53 161.98 L255.56 161.98 L257.76 147.1 L263.79 147.1 L265.99 220.01 L272.02 220.01 L274.22 175.37 L280.25 175.37 L282.45 221.5 L288.48 221.5 L290.68 221.5 L296.7 221.5 L298.9 221.5 L304.93 221.5 L307.13 154.54 L313.16 154.54 L315.36 221.5 L321.39 221.5 L323.59 199.18 L329.62 199.18 L331.82 172.4 L337.85 172.4 L340.05 173.88 L346.08 173.88 L348.28 190.25 L354.31 190.25 L356.51 102.46 L362.53 102.46 L364.73 160.49 L370.76 160.49 L372.96 105.44 L378.99 105.44 L381.19 205.13 L387.22 205.13 L389.42 214.06 L395.45 214.06 L397.65 220.01 L403.68 220.01 L405.88 209.6 L411.91 209.6 L414.11 221.5 L420.14 221.5 L422.34 111.39 L428.36 111.39 L430.56 209.6 L436.59 209.6 L438.79 221.5 L444.82 221.5 L447.02 133.71 L453.05 133.71 L455.25 138.17 L463 138.17" fill="none" stroke="#E24D42" stroke-width="2" stroke-linejoin="round" />
<path d="M68.5 106.18 L74.53 106.18 L76.73 217.04 L82.76 217.04 L84.96 184.3 L90.99 184.3 L93.19 86.09 L99.21 86.09 L101.41 188.76 L107.44 188.76 L109.64 99.48 L115.67 99.48 L117.87 221.5 L123.9 221.5 L126.1 93.53 L132.13 93.53 L134.33 90.56 L140.36 90.56 L142.56 100.97 L148.59 100.97 L150.79 176.86 L156.82 176.86 L159.02 221.5 L165.04 221.5 L167.24 103.95 L173.27 103.95 L175.47 218.52 L181.5 218.52 L183.7 102.46 L189.73 102.46 L191.93 93.53 L197.96 93.53 L200.16 129.24 L206.19 129.24 L208.39 202.16 L214.42 202.16 L216.62 190.25 L222.65 190.25 L224.85 92.04 L230.87 92.04 L233.07 214.06 L239.1 214.06 L241.3 106.92 L247.33 106.92 L249.53 117.34 L255.56 117.34 L257.76 217.04 L263.79 217.04 L265.99 209.6 L272.02 209.6 L274.22 102.46 L280.25 102.46 L282.45 105.44 L288.48 105.44 L290.68 90.56 L296.7 90.56 L298.9 221.5 L304.93 221.5 L307.13 217.04 L313.16 217.04 L315.36 170.91 L321.39 170.91 L323.59 221.5 L329.62 221.5 L331.82 98 L337.85 98 L340.05 78.65 L346.08 78.65 L348.28 217.04 L354.31 217.04 L356.51 214.06 L362.53 214.06 L364.73 135.2 L370.76 135.2 L372.96 92.04 L378.99 92.04 L381.19 99.48 L387.22 99.48 L389.42 124.78 L395.45 124.78 L397.65 87.58 L403.68 87.58 L405.88 220.01 L411.91 220.01 L414.11 202.16 L420.14 202.16 L422.34 123.29 L428.36 123.29 L430.56 112.88 L436.59 112.88 L438.79 221.5 L444.82 221.5 L447.02 154.54 L453.05 154.54 L455.25 99.48 L463 99.48" fill="none" stroke="#1F78C1" stroke-width="2" stroke-linejoin="round" />
<path d="M68.5 105.14 L74.53 105.14 L76.73 92.04 L82.76 92.04 L84.96 209.6 L90.99 209.6 L93.19 159 L99.21 159 L101.41 127.76 L107.44 127.76 L109.64 141.15 L115.67 141.15 L117.87 136.68 L123.9 136.68 L126.1 166.44 L132.13 166.44 L134.33 126.27 L140.36 126.27 L142.56 145.61 L148.59 145.61 L150.79 127.76 L156.82 127.76 L159.02 218.52 L165.04 218.52 L167.24 220.01 L173.27 220.01 L175.47 203.64 L181.5 203.64 L183.7 106.92 L189.73 106.92 L191.93 103.95 L197.96 103.95 L200.16 100.97 L206.19 100.97 L208.39 90.56 L214.42 90.56 L216.62 170.91 L222.65 170.91 L224.85 150.08 L230.87 150.08 L233.07 130.73 L239.1 130.73 L241.3 92.04 L247.33 92.04 L249.53 160.49 L255.56 160.49 L257.76 98 L263.79 98 L265.99 220.01 L272.02 220.01 L274.22 105.44 L280.25 105.44 L282.45 218.52 L288.48 218.52 L290.68 172.4 L296.7 172.4 L298.9 167.93 L304.93 167.93 L307.13 156.03 L313.16 156.03 L315.36 129.24 L321.39 129.24 L323.59 221.5 L329.62 221.5 L331.82 81.63 L337.85 81.63 L340.05 214.06 L346.08 214.06 L348.28 217.04 L354.31 217.04 L356.51 100.97 L362.53 100.97 L364.73 169.42 L370.76 169.42 L372.96 220.01 L378.99 220.01 L381.19 132.22 L387.22 132.22 L389.42 173.88 L395.45 173.88 L397.65 187.28 L403.68 187.28 L405.88 148.59 L411.91 148.59 L414.11 109.9 L420.14 109.9 L422.34 99.48 L428.36 99.48 L430.56 105.44 L436.59 105.44 L438.79 144.12 L444.82 144.12 L447.02 166.44 L453.05 166.44 L455.25 109.9 L463 109.9" fill="none" stroke="#BA43A9" stroke-width="2" stroke-linejoin="round" />
<path d="M68.5 104.1 L74.53 104.1 L76.73 172.4 L82.76 172.4 L84.96 145.61 L90.99 145.61 L93.19 109.9 L99.21 109.9 L101.41 89.07 L107.44 89.07 L109.64 220.01 L115.67 220.01 L117.87 214.06 L123.9 214.06 L126.1 118.83 L132.13 118.83 L134.33 98 L140.36 98 L142.56 103.95 L148.59 103.95 L150.79 220.01 L156.82 220.01 L159.02 141.15 L165.04 141.15 L167.24 221.5 L173.27 221.5 L175.47 81.63 L181.5 81.63 L183.7 98 L189.73 98 L191.93 205.13 L197.96 205.13 L200.16 221.5 L206.19 221.5 L208.39 100.97 L214.42 100.97 L216.62 218.52 L222.65 218.52 L224.85 214.06 L230.87 214.06 L233.07 221.5 L239.1 221.5 L241.3 87.58 L247.33 87.58 L249.53 191.74 L255.56 191.74 L257.76 172.4 L263.79 172.4 L265.99 118.83 L272.02 118.83 L274.22 100.97 L280.25 100.97 L282.45 214.06 L288.48 214.06 L290.68 200.67 L296.7 200.67 L298.9 185.79 L304.93 185.79 L307.13 217.04 L313.16 217.04 L315.36 221.5 L321.39 221.5 L323.59 202.16 L329.62 202.16 L331.82 220.01 L337.85 220.01 L340.05 220.01 L346.08 220.01 L348.28 108.41 L354.31 108.41 L356.51 221.5 L362.53 221.5 L364.73 218.52 L370.76 218.52 L372.96 176.86 L378.99 176.86 L381.19 217.04 L387.22 217.04 L389.42 190.25 L395.45 190.25 L397.65 160.49 L403.68 160.49 L405.88 103.95 L411.91 103.95 L414.11 105.44 L420.14 105.44 L422.34 221.5 L428.36 221.5 L430.56 218.52 L436.59 218.52 L438.79 118.83 L444.82 118.83 L447.02 105.44 L453.05 105.44 L455.25 96.51 L463 96.51" fill="none" stroke="#705DA0" stroke-width="2" stroke-linejoin="round" />
<path d="M68.5 108.41 L74.53 108.41 L76.73 164.96 L82.76 164.96 L84.96 181.32 L90.99 181.32 L93.19 99.48 L99.21 99.48 L101.41 87.58 L107.44 87.58 L109.64 112.88 L115.67 112.88 L117.87 173.88 L123.9 173.88 L126.1 191.74 L132.13 191.74 L134.33 92.04 L140.36 92.04 L142.56 121.06 L148.59 121.06 L150.79 188.76 L156.82 188.76 L159.02 219.27 L165.04 219.27 L167.24 219.27 L173.27 219.27 L175.47 127.76 L181.5 127.76 L183.7 121.8 L189.73 121.8 L191.93 124.04 L197.96 124.04 L200.16 125.52 L206.19 125.52 L208.39 217.04 L214.42 217.04 L216.62 86.09 L222.65 86.09 L224.85 100.97 L230.87 100.97 L233.07 106.92 L239.1 106.92 L241.3 141.15 L247.33 141.15 L249.53 178.35 L255.56 178.35 L257.76 214.06 L263.79 214.06 L265.99 184.3 L272.02 184.3 L274.22 105.44 L280.25 105.44 L282.45 151.56 L288.48 151.56 L290.68 220.01 L296.7 220.01 L298.9 90.56 L304.93 90.56 L307.13 78.65 L313.16 78.65 L315.36 176.86 L321.39 176.86 L323.59 132.22 L329.62 132.22 L331.82 209.6 L337.85 209.6 L340.05 123.29 L346.08 123.29 L348.28 218.52 L354.31 218.52 L356.51 124.78 L362.53 124.78 L364.73 81.63 L370.76 81.63 L372.96 86.09 L378.99 86.09 L381.19 112.88 L387.22 112.88 L389.42 106.92 L395.45 106.92 L397.65 99.48 L403.68 99.48 L405.88 170.91 L411.91 170.91 L414.11 161.98 L420.14 161.98 L422.34 123.29 L428.36 123.29 L430.56 87.58 L436.59 87.58 L438.79 92.04 L444.82 92.04 L447.02 108.41 L453.05 108.41 L455.25 218.52 L463 218.52" fill="none" stroke="#508642" stroke-width="2" stroke-linejoin="round" />
<path d="M68.5 106.92 L74.53 106.92 L76.73 159 L82.76 159 L84.96 169.42 L90.99 169.42 L93.19 198.58 L99.21 198.58 L101.41 194.72 L107.44 194.72 L109.64 164.96 L115.67 164.96 L117.87 176.86 L123.9 176.86 L126.1 164.96 L132.13 164.96 L134.33 156.03 L140.36 156.03 L142.56 114.36 L148.59 114.36 L150.79 209 L156.82 209 L159.02 172.4 L165.04 172.4 L167.24 209 L173.27 209 L175.47 159 L181.5 159 L183.7 220.76 L189.73 220.76 L191.93 173.88 L197.96 173.88 L200.16 144.12 L206.19 144.12 L208.39 121.8 L214.42 121.8 L216.62 157.52 L222.65 157.52 L224.85 188.76 L230.87 188.76 L233.07 219.27 L239.1 219.27 L241.3 86.09 L247.33 86.09 L249.53 211.83 L255.56 211.83 L257.76 105.44 L263.79 105.44 L265.99 219.27 L272.02 219.27 L274.22 160.49 L280.25 160.49 L282.45 205.13 L288.48 205.13 L290.68 133.71 L296.7 133.71 L298.9 220.01 L304.93 220.01 L307.13 120.32 L313.16 120.32 L315.36 173.88 L321.39 173.88 L323.59 173.88 L329.62 173.88 L331.82 194.72 L337.85 194.72 L340.05 198.58 L346.08 198.58 L348.28 126.27 L354.31 126.27 L356.51 83.12 L362.53 83.12 L364.73 173.88 L370.76 173.88 L372.96 220.01 L378.99 220.01 L381.19 161.98 L387.22 161.98 L389.42 175.37 L395.45 175.37 L397.65 120.32 L403.68 120.32 L405.88 219.27 L411.91 219.27 L414.11 181.32 L420.14 181.32 L422.34 220.01 L428.36 220.01 L430.56 219.27 L436.59 219.27 L438.79 96.51 L444.82 96.51 L447.02 166.44 L453.05 166.44 L455.25 100.97 L463 100.97" fill="none" stroke="#CCA300" stroke-width="2" stroke-linejoin="round" />
</svg>
<div class="tk" style="right:454.5px;top:27.5px">1.25</div>
<div class="tk" style="right:454.5px;top:64.5px">1.00</div>
<div class="tk" style="right:454.5px;top:101.5px">0.75</div>
<div class="tk" style="right:454.5px;top:138.5px">0.50</div>
<div class="tk" style="right:454.5px;top:175.5px">0.25</div>
<div class="tk" style="right:454.5px;top:213.5px">0</div>
<div class="tk c" style="left:22.5px;top:228.1px">18:38</div>
<div class="tk c" style="left:88.5px;top:228.1px">18:40</div>
<div class="tk c" style="left:154.5px;top:228.1px">18:42</div>
<div class="tk c" style="left:219.5px;top:228.1px">18:44</div>
<div class="tk c" style="left:285.5px;top:228.1px">18:46</div>
<div class="tk c" style="left:351.5px;top:228.1px">18:48</div>
<div class="tk c" style="left:417.5px;top:228.1px">18:50</div>
</div>
<div class="panel" style="left:1021px;top:597px;width:489px;height:252px">
<div class="title">Executor Old-Gen</div>
<svg class="chart" width="489" height="252" viewBox="0 0 489 252">
<rect x="40" y="35" width="423" height="1" fill="#c8c8c8" fill-opacity="0.22"/>
<rect x="40" y="75" width="423" height="1" fill="#c8c8c8" fill-opacity="0.22"/>
<rect x="40" y="115" width="423" height="1" fill="#c8c8c8" fill-opacity="0.22"/>
<rect x="40" y="155" width="423" height="1" fill="#c8c8c8" fill-opacity="0.22"/>
<rect x="40" y="195" width="423" height="1" fill="#c8c8c8" fill-opacity="0.22"/>
<rect x="52" y="35" width="1" height="160" fill="#c8c8c8" fill-opacity="0.22"/>
<rect x="118" y="35" width="1" height="160" fill="#c8c8c8" fill-opacity="0.22"/>
<rect x="184" y="35" width="1" height="160" fill="#c8c8c8" fill-opacity="0.22"/>
<rect x="249" y="35" width="1" height="160" fill="#c8c8c8" fill-opacity="0.22"/>
<rect x="315" y="35" width="1" height="160" fill="#c8c8c8" fill-opacity="0.22"/>
<rect x="381" y="35" width="1" height="160" fill="#c8c8c8" fill-opacity="0.22"/>
<rect x="447" y="35" width="1" height="160" fill="#c8c8c8" fill-opacity="0.22"/>
<path d="M68.4 195.5 L74.83 195.5 L76.63 195.5 L83.06 195.5 L84.86 150.7 L91.29 150.7 L93.09 110.7 L99.52 110.7 L101.32 83.5 L107.74 83.5 L109.54 117.1 L115.97 117.1 L117.77 96.3 L124.2 96.3 L126 91.5 L132.43 91.5 L134.23 75.5 L140.66 75.5 L142.46 101.1 L148.89 101.1 L150.69 75.5 L157.12 75.5 L158.92 54.7 L165.35 54.7 L167.14 75.5 L173.57 75.5 L175.37 88.3 L181.8 88.3 L183.6 56.3 L190.03 56.3 L191.83 70.7 L198.26 70.7 L200.06 65.9 L206.49 65.9 L208.29 64.3 L214.72 64.3 L216.52 96.3 L222.95 96.3 L224.75 83.5 L231.17 83.5 L232.97 62.7 L239.4 62.7 L241.2 61.1 L247.63 61.1 L249.43 89.9 L255.86 89.9 L257.66 67.5 L264.09 67.5 L265.89 73.9 L272.32 73.9 L274.12 46.7 L280.55 46.7 L282.35 64.3 L288.78 64.3 L290.58 54.7 L297 54.7 L298.8 61.1 L305.23 61.1 L307.03 41.9 L313.46 41.9 L315.26 51.5 L321.69 51.5 L323.49 48.3 L329.92 48.3 L331.72 57.9 L338.15 57.9 L339.95 53.1 L346.38 53.1 L348.18 43.5 L354.61 43.5 L356.41 49.9 L362.83 49.9 L364.63 43.5 L371.06 43.5 L372.86 62.7 L379.29 62.7 L381.09 70.7 L387.52 70.7 L389.32 53.1 L395.75 53.1 L397.55 64.3 L403.98 64.3 L405.78 45.1 L412.21 45.1 L414.01 69.1 L420.44 69.1 L422.24 54.7 L428.66 54.7 L430.46 61.1 L436.89 61.1 L438.69 48.3 L445.12 48.3 L446.92 64.3 L453.35 64.3 L455.15 54.7 L463 54.7" fill="none" stroke="#7EB26D" stroke-width="2" stroke-linejoin="round" />
<path d="M68.4 195.5 L74.83 195.5 L76.63 195.5 L83.06 195.5 L84.86 155.5 L91.29 155.5 L93.09 115.5 L99.52 115.5 L101.32 81.9 L107.74 81.9 L109.54 120.3 L115.97 120.3 L117.77 96.3 L124.2 96.3 L126 89.9 L132.43 89.9 L134.23 91.5 L140.66 91.5 L142.46 93.1 L148.89 93.1 L150.69 61.1 L157.12 61.1 L158.92 56.3 L165.35 56.3 L167.14 96.3 L173.57 96.3 L175.37 81.9 L181.8 81.9 L183.6 57.9 L190.03 57.9 L191.83 77.1 L198.26 77.1 L200.06 77.1 L206.49 77.1 L208.29 72.3 L214.72 72.3 L216.52 86.7 L222.95 86.7 L224.75 64.3 L231.17 64.3 L232.97 53.1 L239.4 53.1 L241.2 65.9 L247.63 65.9 L249.43 57.9 L255.86 57.9 L257.66 65.9 L264.09 65.9 L265.89 69.1 L272.32 69.1 L274.12 57.9 L280.55 57.9 L282.35 62.7 L288.78 62.7 L290.58 49.9 L297 49.9 L298.8 70.7 L305.23 70.7 L307.03 54.7 L313.46 54.7 L315.26 53.1 L321.69 53.1 L323.49 46.7 L329.92 46.7 L331.72 45.1 L338.15 45.1 L339.95 54.7 L346.38 54.7 L348.18 51.5 L354.61 51.5 L356.41 64.3 L362.83 64.3 L364.63 56.3 L371.06 56.3 L372.86 54.7 L379.29 54.7 L381.09 49.9 L387.52 49.9 L389.32 75.5 L395.75 75.5 L397.55 69.1 L403.98 69.1 L405.78 59.5 L412.21 59.5 L414.01 53.1 L420.44 53.1 L422.24 64.3 L428.66 64.3 L430.46 67.5 L436.89 67.5 L438.69 72.3 L445.12 72.3 L446.92 53.1 L453.35 53.1 L455.15 62.7 L463 62.7" fill="none" stroke="#EAB839" stroke-width="2" stroke-linejoin="round" />
<path d="M68.4 195.5 L74.83 195.5 L76.63 195.5 L83.06 195.5 L84.86 147.5 L91.29 147.5 L93.09 117.1 L99.52 117.1 L101.32 89.9 L107.74 89.9 L109.54 115.5 L115.97 115.5 L117.77 112.3 L124.2 112.3 L126 81.9 L132.43 81.9 L134.23 117.1 L140.66 117.1 L142.46 78.7 L148.89 78.7 L150.69 72.3 L157.12 72.3 L158.92 83.5 L165.35 83.5 L167.14 65.9 L173.57 65.9 L175.37 88.3 L181.8 88.3 L183.6 65.9 L190.03 65.9 L191.83 86.7 L198.26 86.7 L200.06 69.1 L206.49 69.1 L208.29 57.9 L214.72 57.9 L216.52 73.9 L222.95 73.9 L224.75 85.1 L231.17 85.1 L232.97 69.1 L239.4 69.1 L241.2 56.3 L247.63 56.3 L249.43 56.3 L255.86 56.3 L257.66 67.5 L264.09 67.5 L265.89 54.7 L272.32 54.7 L274.12 64.3 L280.55 64.3 L282.35 53.1 L288.78 53.1 L290.58 56.3 L297 56.3 L298.8 65.9 L305.23 65.9 L307.03 41.9 L313.46 41.9 L315.26 72.3 L321.69 72.3 L323.49 53.1 L329.92 53.1 L331.72 49.9 L338.15 49.9 L339.95 69.1 L346.38 69.1 L348.18 56.3 L354.61 56.3 L356.41 54.7 L362.83 54.7 L364.63 64.3 L371.06 64.3 L372.86 67.5 L379.29 67.5 L381.09 61.1 L387.52 61.1 L389.32 70.7 L395.75 70.7 L397.55 59.5 L403.98 59.5 L405.78 57.9 L412.21 57.9 L414.01 51.5 L420.44 51.5 L422.24 43.5 L428.66 43.5 L430.46 56.3 L436.89 56.3 L438.69 56.3 L445.12 56.3 L446.92 72.3 L453.35 72.3 L455.15 54.7 L463 54.7" fill="none" stroke="#6ED0E0" stroke-width="2" stroke-linejoin="round" />
<path d="M68.4 195.5 L74.83 195.5 L76.63 195.5 L83.06 195.5 L84.86 149.1 L91.29 149.1 L93.09 110.7 L99.52 110.7 L101.32 83.5 L107.74 83.5 L109.54 121.9 L115.97 121.9 L117.77 77.1 L124.2 77.1 L126 78.7 L132.43 78.7 L134.23 121.9 L140.66 121.9 L142.46 83.5 L148.89 83.5 L150.69 75.5 L157.12 75.5 L158.92 93.1 L165.35 93.1 L167.14 48.3 L173.57 48.3 L175.37 72.3 L181.8 72.3 L183.6 62.7 L190.03 62.7 L191.83 64.3 L198.26 64.3 L200.06 88.3 L206.49 88.3 L208.29 83.5 L214.72 83.5 L216.52 64.3 L222.95 64.3 L224.75 88.3 L231.17 88.3 L232.97 49.9 L239.4 49.9 L241.2 61.1 L247.63 61.1 L249.43 59.5 L255.86 59.5 L257.66 49.9 L264.09 49.9 L265.89 72.3 L272.32 72.3 L274.12 80.3 L280.55 80.3 L282.35 51.5 L288.78 51.5 L290.58 65.9 L297 65.9 L298.8 72.3 L305.23 72.3 L307.03 61.1 L313.46 61.1 L315.26 72.3 L321.69 72.3 L323.49 64.3 L329.92 64.3 L331.72 45.1 L338.15 45.1 L339.95 51.5 L346.38 51.5 L348.18 59.5 L354.61 59.5 L356.41 69.1 L362.83 69.1 L364.63 80.3 L371.06 80.3 L372.86 51.5 L379.29 51.5 L381.09 62.7 L387.52 62.7 L389.32 49.9 L395.75 49.9 L397.55 61.1 L403.98 61.1 L405.78 57.9 L412.21 57.9 L414.01 59.5 L420.44 59.5 L422.24 67.5 L428.66 67.5 L430.46 54.7 L436.89 54.7 L438.69 54.7 L445.12 54.7 L446.92 59.5 L453.35 59.5 L455.15 40.3 L463 40.3" fill="none" stroke="#EF843C" stroke-width="2" stroke-linejoin="round" />
<path d="M68.4 195.5 L74.83 195.5 L76.63 195.5 L83.06 195.5 L84.86 144.3 L91.29 144.3 L93.09 112.3 L99.52 112.3 L101.32 83.5 L107.74 83.5 L109.54 110.7 L115.97 110.7 L117.77 109.1 L124.2 109.1 L126 83.5 L132.43 83.5 L134.23 104.3 L140.66 104.3 L142.46 86.7 L148.89 86.7 L150.69 89.9 L157.12 89.9 L158.92 62.7 L165.35 62.7 L167.14 67.5 L173.57 67.5 L175.37 75.5 L181.8 75.5 L183.6 57.9 L190.03 57.9 L191.83 75.5 L198.26 75.5 L200.06 61.1 L206.49 61.1 L208.29 97.9 L214.72 97.9 L216.52 51.5 L222.95 51.5 L224.75 69.1 L231.17 69.1 L232.97 61.1 L239.4 61.1 L241.2 64.3 L247.63 64.3 L249.43 62.7 L255.86 62.7 L257.66 43.5 L264.09 43.5 L265.89 57.9 L272.32 57.9 L274.12 51.5 L280.55 51.5 L282.35 57.9 L288.78 57.9 L290.58 49.9 L297 49.9 L298.8 49.9 L305.23 49.9 L307.03 81.9 L313.46 81.9 L315.26 49.9 L321.69 49.9 L323.49 49.9 L329.92 49.9 L331.72 40.3 L338.15 40.3 L339.95 72.3 L346.38 72.3 L348.18 64.3 L354.61 64.3 L356.41 61.1 L362.83 61.1 L364.63 78.7 L371.06 78.7 L372.86 64.3 L379.29 64.3 L381.09 64.3 L387.52 64.3 L389.32 54.7 L395.75 54.7 L397.55 56.3 L403.98 56.3 L405.78 48.3 L412.21 48.3 L414.01 64.3 L420.44 64.3 L422.24 69.1 L428.66 69.1 L430.46 70.7 L436.89 70.7 L438.69 48.3 L445.12 48.3 L446.92 62.7 L453.35 62.7 L455.15 56.3 L463 56.3" fill="none" stroke="#E24D42" stroke-width="2" stroke-linejoin="round" />
<path d="M68.4 195.5 L74.83 195.5 L76.63 195.5 L83.06 195.5 L84.86 134.7 L91.29 134.7 L93.09 112.3 L99.52 112.3 L101.32 88.3 L107.74 88.3 L109.54 121.9 L115.97 121.9 L117.77 89.9 L124.2 89.9 L126 93.1 L132.43 93.1 L134.23 102.7 L140.66 102.7 L142.46 94.7 L148.89 94.7 L150.69 72.3 L157.12 72.3 L158.92 73.9 L165.35 73.9 L167.14 78.7 L173.57 78.7 L175.37 70.7 L181.8 70.7 L183.6 70.7 L190.03 70.7 L191.83 81.9 L198.26 81.9 L200.06 105.9 L206.49 105.9 L208.29 65.9 L214.72 65.9 L216.52 77.1 L222.95 77.1 L224.75 81.9 L231.17 81.9 L232.97 69.1 L239.4 69.1 L241.2 65.9 L247.63 65.9 L249.43 80.3 L255.86 80.3 L257.66 40.3 L264.09 40.3 L265.89 40.3 L272.32 40.3 L274.12 51.5 L280.55 51.5 L282.35 67.5 L288.78 67.5 L290.58 69.1 L297 69.1 L298.8 83.5 L305.23 83.5 L307.03 54.7 L313.46 54.7 L315.26 59.5 L321.69 59.5 L323.49 53.1 L329.92 53.1 L331.72 56.3 L338.15 56.3 L339.95 83.5 L346.38 83.5 L348.18 64.3 L354.61 64.3 L356.41 62.7 L362.83 62.7 L364.63 88.3 L371.06 88.3 L372.86 61.1 L379.29 61.1 L381.09 56.3 L387.52 56.3 L389.32 51.5 L395.75 51.5 L397.55 69.1 L403.98 69.1 L405.78 57.9 L412.21 57.9 L414.01 40.3 L420.44 40.3 L422.24 54.7 L428.66 54.7 L430.46 91.5 L436.89 91.5 L438.69 81.9 L445.12 81.9 L446.92 54.7 L453.35 54.7 L455.15 67.5 L463 67.5" fill="none" stroke="#1F78C1" stroke-width="2" stroke-linejoin="round" />
<path d="M68.4 195.5 L74.83 195.5 L76.63 195.5 L83.06 195.5 L84.86 153.9 L91.29 153.9 L93.09 112.3 L99.52 112.3 L101.32 89.9 L107.74 89.9 L109.54 107.5 L115.97 107.5 L117.77 96.3 L124.2 96.3 L126 73.9 L132.43 73.9 L134.23 80.3 L140.66 80.3 L142.46 69.1 L148.89 69.1 L150.69 54.7 L157.12 54.7 L158.92 65.9 L165.35 65.9 L167.14 48.3 L173.57 48.3 L175.37 73.9 L181.8 73.9 L183.6 61.1 L190.03 61.1 L191.83 83.5 L198.26 83.5 L200.06 78.7 L206.49 78.7 L208.29 75.5 L214.72 75.5 L216.52 80.3 L222.95 80.3 L224.75 86.7 L231.17 86.7 L232.97 75.5 L239.4 75.5 L241.2 54.7 L247.63 54.7 L249.43 67.5 L255.86 67.5 L257.66 70.7 L264.09 70.7 L265.89 64.3 L272.32 64.3 L274.12 53.1 L280.55 53.1 L282.35 56.3 L288.78 56.3 L290.58 70.7 L297 70.7 L298.8 56.3 L305.23 56.3 L307.03 80.3 L313.46 80.3 L315.26 56.3 L321.69 56.3 L323.49 61.1 L329.92 61.1 L331.72 62.7 L338.15 62.7 L339.95 61.1 L346.38 61.1 L348.18 80.3 L354.61 80.3 L356.41 56.3 L362.83 56.3 L364.63 62.7 L371.06 62.7 L372.86 78.7 L379.29 78.7 L381.09 80.3 L387.52 80.3 L389.32 78.7 L395.75 78.7 L397.55 59.5 L403.98 59.5 L405.78 59.5 L412.21 59.5 L414.01 59.5 L420.44 59.5 L422.24 59.5 L428.66 59.5 L430.46 72.3 L436.89 72.3 L438.69 62.7 L445.12 62.7 L446.92 49.9 L453.35 49.9 L455.15 43.5 L463 43.5" fill="none" stroke="#BA43A9" stroke-width="2" stroke-linejoin="round" />
<path d="M68.4 195.5 L74.83 195.5 L76.63 195.5 L83.06 195.5 L84.86 150.7 L91.29 150.7 L93.09 117.1 L99.52 117.1 L101.32 83.5 L107.74 83.5 L109.54 117.1 L115.97 117.1 L117.77 113.9 L124.2 113.9 L126 59.5 L132.43 59.5 L134.23 121.9 L140.66 121.9 L142.46 104.3 L148.89 104.3 L150.69 48.3 L157.12 48.3 L158.92 80.3 L165.35 80.3 L167.14 65.9 L173.57 65.9 L175.37 57.9 L181.8 57.9 L183.6 73.9 L190.03 73.9 L191.83 48.3 L198.26 48.3 L200.06 72.3 L206.49 72.3 L208.29 78.7 L214.72 78.7 L216.52 70.7 L222.95 70.7 L224.75 73.9 L231.17 73.9 L232.97 61.1 L239.4 61.1 L241.2 54.7 L247.63 54.7 L249.43 41.9 L255.86 41.9 L257.66 86.7 L264.09 86.7 L265.89 70.7 L272.32 70.7 L274.12 65.9 L280.55 65.9 L282.35 46.7 L288.78 46.7 L290.58 61.1 L297 61.1 L298.8 64.3 L305.23 64.3 L307.03 64.3 L313.46 64.3 L315.26 65.9 L321.69 65.9 L323.49 62.7 L329.92 62.7 L331.72 53.1 L338.15 53.1 L339.95 40.3 L346.38 40.3 L348.18 56.3 L354.61 56.3 L356.41 62.7 L362.83 62.7 L364.63 53.1 L371.06 53.1 L372.86 56.3 L379.29 56.3 L381.09 69.1 L387.52 69.1 L389.32 53.1 L395.75 53.1 L397.55 57.9 L403.98 57.9 L405.78 49.9 L412.21 49.9 L414.01 56.3 L420.44 56.3 L422.24 64.3 L428.66 64.3 L430.46 40.3 L436.89 40.3 L438.69 57.9 L445.12 57.9 L446.92 57.9 L453.35 57.9 L455.15 49.9 L463 49.9" fill="none" stroke="#705DA0" stroke-width="2" stroke-linejoin="round" />
<path d="M68.4 195.5 L74.83 195.5 L76.63 195.5 L83.06 195.5 L84.86 147.5 L91.29 147.5 L93.09 121.9 L99.52 121.9 L101.32 83.5 L107.74 83.5 L109.54 112.3 L115.97 112.3 L117.77 112.3 L124.2 112.3 L126 83.5 L132.43 83.5 L134.23 99.5 L140.66 99.5 L142.46 85.1 L148.89 85.1 L150.69 94.7 L157.12 94.7 L158.92 77.1 L165.35 77.1 L167.14 77.1 L173.57 77.1 L175.37 110.7 L181.8 110.7 L183.6 64.3 L190.03 64.3 L191.83 67.5 L198.26 67.5 L200.06 72.3 L206.49 72.3 L208.29 56.3 L214.72 56.3 L216.52 70.7 L222.95 70.7 L224.75 77.1 L231.17 77.1 L232.97 57.9 L239.4 57.9 L241.2 75.5 L247.63 75.5 L249.43 59.5 L255.86 59.5 L257.66 57.9 L264.09 57.9 L265.89 61.1 L272.32 61.1 L274.12 77.1 L280.55 77.1 L282.35 64.3 L288.78 64.3 L290.58 73.9 L297 73.9 L298.8 75.5 L305.23 75.5 L307.03 73.9 L313.46 73.9 L315.26 53.1 L321.69 53.1 L323.49 64.3 L329.92 64.3 L331.72 40.3 L338.15 40.3 L339.95 83.5 L346.38 83.5 L348.18 54.7 L354.61 54.7 L356.41 56.3 L362.83 56.3 L364.63 48.3 L371.06 48.3 L372.86 40.3 L379.29 40.3 L381.09 57.9 L387.52 57.9 L389.32 67.5 L395.75 67.5 L397.55 40.3 L403.98 40.3 L405.78 54.7 L412.21 54.7 L414.01 65.9 L420.44 65.9 L422.24 80.3 L428.66 80.3 L430.46 53.1 L436.89 53.1 L438.69 53.1 L445.12 53.1 L446.92 85.1 L453.35 85.1 L455.15 54.7 L463 54.7" fill="none" stroke="#508642" stroke-width="2" stroke-linejoin="round" />
<path d="M68.4 195.5 L74.83 195.5 L76.63 195.5 L83.06 195.5 L84.86 145.9 L91.29 145.9 L93.09 121.9 L99.52 121.9 L101.32 78.7 L107.74 78.7 L109.54 101.1 L115.97 101.1 L117.77 109.1 L124.2 109.1 L126 88.3 L132.43 88.3 L134.23 75.5 L140.66 75.5 L142.46 112.3 L148.89 112.3 L150.69 72.3 L157.12 72.3 L158.92 56.3 L165.35 56.3 L167.14 53.1 L173.57 53.1 L175.37 72.3 L181.8 72.3 L183.6 77.1 L190.03 77.1 L191.83 78.7 L198.26 78.7 L200.06 57.9 L206.49 57.9 L208.29 70.7 L214.72 70.7 L216.52 80.3 L222.95 80.3 L224.75 59.5 L231.17 59.5 L232.97 56.3 L239.4 56.3 L241.2 67.5 L247.63 67.5 L249.43 81.9 L255.86 81.9 L257.66 40.3 L264.09 40.3 L265.89 62.7 L272.32 62.7 L274.12 65.9 L280.55 65.9 L282.35 48.3 L288.78 48.3 L290.58 72.3 L297 72.3 L298.8 46.7 L305.23 46.7 L307.03 57.9 L313.46 57.9 L315.26 57.9 L321.69 57.9 L323.49 56.3 L329.92 56.3 L331.72 70.7 L338.15 70.7 L339.95 75.5 L346.38 75.5 L348.18 64.3 L354.61 64.3 L356.41 61.1 L362.83 61.1 L364.63 51.5 L371.06 51.5 L372.86 40.3 L379.29 40.3 L381.09 45.1 L387.52 45.1 L389.32 67.5 L395.75 67.5 L397.55 49.9 L403.98 49.9 L405.78 57.9 L412.21 57.9 L414.01 80.3 L420.44 80.3 L422.24 61.1 L428.66 61.1 L430.46 96.3 L436.89 96.3 L438.69 51.5 L445.12 51.5 L446.92 59.5 L453.35 59.5 L455.15 46.7 L463 46.7" fill="none" stroke="#CCA300" stroke-width="2" stroke-linejoin="round" />
</svg>
<div class="tk" style="right:454.5px;top:27.5px">1.00</div>
<div class="tk" style="right:454.5px;top:67.5px">0.75</div>
<div class="tk" style="right:454.5px;top:107.5px">0.50</div>
<div class="tk" style="right:454.5px;top:147.5px">0.25</div>
<div class="tk" style="right:454.5px;top:187.5px">0</div>
<div class="tk c" style="left:22.5px;top:202.1px">18:38</div>
<div class="tk c" style="left:88.5px;top:202.1px">18:40</div>
<div class="tk c" style="left:154.5px;top:202.1px">18:42</div>
<div class="tk c" style="left:219.5px;top:202.1px">18:44</div>
<div class="tk c" style="left:285.5px;top:202.1px">18:46</div>
<div class="tk c" style="left:351.5px;top:202.1px">18:48</div>
<div class="tk c" style="left:417.5px;top:202.1px">18:50</div>
<div class="sw" style="left:41px;top:233.75px;background:#7EB26D"></div>
<div class="lg" style="left:58px;top:228px">1</div>
<div class="sw" style="left:74px;top:233.75px;background:#EAB839"></div>
<div class="lg" style="left:91px;top:228px">10</div>
<div class="sw" style="left:114px;top:233.75px;background:#6ED0E0"></div>
<div class="lg" style="left:131px;top:228px">2</div>
<div class="sw" style="left:147px;top:233.75px;background:#EF843C"></div>
<div class="lg" style="left:164px;top:228px">3</div>
<div class="sw" style="left:180.5px;top:233.75px;background:#E24D42"></div>
<div class="lg" style="left:197.5px;top:228px">4</div>
<div class="sw" style="left:213.5px;top:233.75px;background:#1F78C1"></div>
<div class="lg" style="left:230.5px;top:228px">5</div>
<div class="sw" style="left:247px;top:233.75px;background:#BA43A9"></div>
<div class="lg" style="left:264px;top:228px">6</div>
<div class="sw" style="left:280px;top:233.75px;background:#705DA0"></div>
<div class="lg" style="left:297px;top:228px">7</div>
<div class="sw" style="left:313px;top:233.75px;background:#508642"></div>
<div class="lg" style="left:330px;top:228px">8</div>
<div class="sw" style="left:346.5px;top:233.75px;background:#CCA300"></div>
<div class="lg" style="left:363.5px;top:228px">9</div>
</div>
<div class="panel" style="left:23px;top:859px;width:1487px;height:252px">
<div class="title">Tasks</div>
<svg class="chart" width="1487" height="252" viewBox="0 0 1487 252">
<rect x="30" y="35" width="1416" height="1" fill="#c8c8c8" fill-opacity="0.22"/>
<rect x="30" y="67" width="1416" height="1" fill="#c8c8c8" fill-opacity="0.22"/>
<rect x="30" y="99" width="1416" height="1" fill="#c8c8c8" fill-opacity="0.22"/>
<rect x="30" y="131" width="1416" height="1" fill="#c8c8c8" fill-opacity="0.22"/>
<rect x="30" y="163" width="1416" height="1" fill="#c8c8c8" fill-opacity="0.22"/>
<rect x="30" y="195" width="1416" height="1" fill="#c8c8c8" fill-opacity="0.22"/>
<rect x="70" y="35" width="1" height="160" fill="#c8c8c8" fill-opacity="0.22"/>
<rect x="181" y="35" width="1" height="160" fill="#c8c8c8" fill-opacity="0.22"/>
<rect x="291" y="35" width="1" height="160" fill="#c8c8c8" fill-opacity="0.22"/>
<rect x="401" y="35" width="1" height="160" fill="#c8c8c8" fill-opacity="0.22"/>
<rect x="512" y="35" width="1" height="160" fill="#c8c8c8" fill-opacity="0.22"/>
<rect x="622" y="35" width="1" height="160" fill="#c8c8c8" fill-opacity="0.22"/>
<rect x="732" y="35" width="1" height="160" fill="#c8c8c8" fill-opacity="0.22"/>
<rect x="842" y="35" width="1" height="160" fill="#c8c8c8" fill-opacity="0.22"/>
<rect x="953" y="35" width="1" height="160" fill="#c8c8c8" fill-opacity="0.22"/>
<rect x="1063" y="35" width="1" height="160" fill="#c8c8c8" fill-opacity="0.22"/>
<rect x="1173" y="35" width="1" height="160" fill="#c8c8c8" fill-opacity="0.22"/>
<rect x="1284" y="35" width="1" height="160" fill="#c8c8c8" fill-opacity="0.22"/>
<rect x="1394" y="35" width="1" height="160" fill="#c8c8c8" fill-opacity="0.22"/>
<rect x="1446" y="35" width="5.5" height="1" fill="#c8c8c8" fill-opacity="0.22"/>
<rect x="1446" y="62" width="5.5" height="1" fill="#c8c8c8" fill-opacity="0.22"/>
<rect x="1446" y="88" width="5.5" height="1" fill="#c8c8c8" fill-opacity="0.22"/>
<rect x="1446" y="115" width="5.5" height="1" fill="#c8c8c8" fill-opacity="0.22"/>
<rect x="1446" y="142" width="5.5" height="1" fill="#c8c8c8" fill-opacity="0.22"/>
<rect x="1446" y="168" width="5.5" height="1" fill="#c8c8c8" fill-opacity="0.22"/>
<rect x="1446" y="195" width="5.5" height="1" fill="#c8c8c8" fill-opacity="0.22"/>
<path d="M126.4 195.5 L152 195.5 L153.5 192.3 L177.75 192.3 L181.5 67.5 L316.5 67.5 L321 93 L343 93 L347 67.5 L1446 67.5 L1446 195.5 L126.4 195.5Z" fill="#7EB26D" fill-opacity="0.1" stroke="none"/>
<path d="M126.4 195.3 L152 195.3 L155 67.1 L1446 67.1 L1446 195.5 L126.4 195.5Z" fill="#6ED0E0" fill-opacity="0.1" stroke="none"/>
<path d="M152.4 196 L156 175 L316.8 175 L320.9 162.5 L343 162.5 L346.4 153.5 L373 153.5 L376.5 152.4 L452 152.4 L455.7 151.4 L483 151.4 L486.8 147.4 L509.3 147.4 L512.8 135.4 L538.4 135.4 L542 132.4 L564 132.4 L567.5 131.3 L618.6 131.3 L622 130.3 L648.7 130.3 L652.2 127.3 L673.7 127.3 L677.3 120.8 L703.8 120.8 L707.3 113.8 L728.9 113.8 L732.4 110.8 L755 110.8 L758 109.8 L813.2 109.8 L816.7 107.8 L839.8 107.8 L843.3 105.8 L868.3 105.8 L871.8 96.3 L895.9 96.3 L899.4 92.3 L923.5 92.3 L927 90.2 L951 90.2 L954.6 88.7 L978.6 88.7 L982 86.7 L1006 86.7 L1009.5 85.7 L1033.8 85.7 L1037.3 84.2 L1061.3 84.2 L1064.8 77.2 L1088.9 77.2 L1092.4 72 L1114 72 L1117.75 69.5 L1144.5 69.5 L1147.75 67 L1170 67 L1173.5 66 L1200 66 L1203.5 65 L1225 65 L1228.5 60.25 L1255 60.25 L1258.5 53.75 L1281 53.75 L1284.5 49.75 L1309.5 49.75 L1313 47.5 L1336.5 47.5 L1339 47 L1364.75 47 L1368 45 L1391.5 45 L1394.75 42.25 L1420 42.25 L1424 38.75 L1446 38.75 L1446 195.5 L152.4 195.5Z" fill="#EAB839" fill-opacity="0.1" stroke="none"/>
<path d="M126.4 195.5 L152 195.5 L153.5 192.3 L177.75 192.3 L181.5 67.5 L316.5 67.5 L321 93 L343 93 L347 67.5 L1446 67.5" fill="none" stroke="#7EB26D" stroke-width="2" stroke-linejoin="round" />
<path d="M152.4 196 L156 175 L316.8 175 L320.9 162.5 L343 162.5 L346.4 153.5 L373 153.5 L376.5 152.4 L452 152.4 L455.7 151.4 L483 151.4 L486.8 147.4 L509.3 147.4 L512.8 135.4 L538.4 135.4 L542 132.4 L564 132.4 L567.5 131.3 L618.6 131.3 L622 130.3 L648.7 130.3 L652.2 127.3 L673.7 127.3 L677.3 120.8 L703.8 120.8 L707.3 113.8 L728.9 113.8 L732.4 110.8 L755 110.8 L758 109.8 L813.2 109.8 L816.7 107.8 L839.8 107.8 L843.3 105.8 L868.3 105.8 L871.8 96.3 L895.9 96.3 L899.4 92.3 L923.5 92.3 L927 90.2 L951 90.2 L954.6 88.7 L978.6 88.7 L982 86.7 L1006 86.7 L1009.5 85.7 L1033.8 85.7 L1037.3 84.2 L1061.3 84.2 L1064.8 77.2 L1088.9 77.2 L1092.4 72 L1114 72 L1117.75 69.5 L1144.5 69.5 L1147.75 67 L1170 67 L1173.5 66 L1200 66 L1203.5 65 L1225 65 L1228.5 60.25 L1255 60.25 L1258.5 53.75 L1281 53.75 L1284.5 49.75 L1309.5 49.75 L1313 47.5 L1336.5 47.5 L1339 47 L1364.75 47 L1368 45 L1391.5 45 L1394.75 42.25 L1420 42.25 L1424 38.75 L1446 38.75" fill="none" stroke="#EAB839" stroke-width="2" stroke-linejoin="round" />
<path d="M126.4 195.3 L152 195.3 L155 67.1 L1446 67.1" fill="none" stroke="#6ED0E0" stroke-width="2" stroke-linejoin="round" />
</svg>
<div class="tk" style="right:1462.5px;top:27.5px">50</div>
<div class="tk" style="right:1462.5px;top:59.5px">40</div>
<div class="tk" style="right:1462.5px;top:91.5px">30</div>
<div class="tk" style="right:1462.5px;top:123.5px">20</div>
<div class="tk" style="right:1462.5px;top:155.5px">10</div>
<div class="tk" style="right:1462.5px;top:187.5px">0</div>
<div class="tk" style="left:1456px;top:27.5px">300</div>
<div class="tk" style="left:1456px;top:54.5px">250</div>
<div class="tk" style="left:1456px;top:81px">200</div>
<div class="tk" style="left:1456px;top:107.7px">150</div>
<div class="tk" style="left:1456px;top:134.5px">100</div>
<div class="tk" style="left:1456px;top:160.9px">50</div>
<div class="tk" style="left:1456px;top:187.5px">0</div>
<div class="tk c" style="left:40.5px;top:202.1px">18:38</div>
<div class="tk c" style="left:151.5px;top:202.1px">18:39</div>
<div class="tk c" style="left:261.5px;top:202.1px">18:40</div>
<div class="tk c" style="left:371.5px;top:202.1px">18:41</div>
<div class="tk c" style="left:482.5px;top:202.1px">18:42</div>
<div class="tk c" style="left:592.5px;top:202.1px">18:43</div>
<div class="tk c" style="left:702.5px;top:202.1px">18:44</div>
<div class="tk c" style="left:812.5px;top:202.1px">18:45</div>
<div class="tk c" style="left:923.5px;top:202.1px">18:46</div>
<div class="tk c" style="left:1033.5px;top:202.1px">18:47</div>
<div class="tk c" style="left:1143.5px;top:202.1px">18:48</div>
<div class="tk c" style="left:1254.5px;top:202.1px">18:49</div>
<div class="tk c" style="left:1364.5px;top:202.1px">18:50</div>
<div class="sw" style="left:41.2px;top:233.75px;background:#7EB26D"></div>
<div class="lg" style="left:57.5px;top:228px">activeTasks</div>
<div class="sw" style="left:130.4px;top:233.75px;background:#6ED0E0"></div>
<div class="lg" style="left:147px;top:228px">currentPool_size</div>
<div class="sw" style="left:1358.5px;top:233.75px;background:#EAB839"></div>
<div class="lg" style="left:1375px;top:228px">completeTasks</div>
</div>
</body></html>
